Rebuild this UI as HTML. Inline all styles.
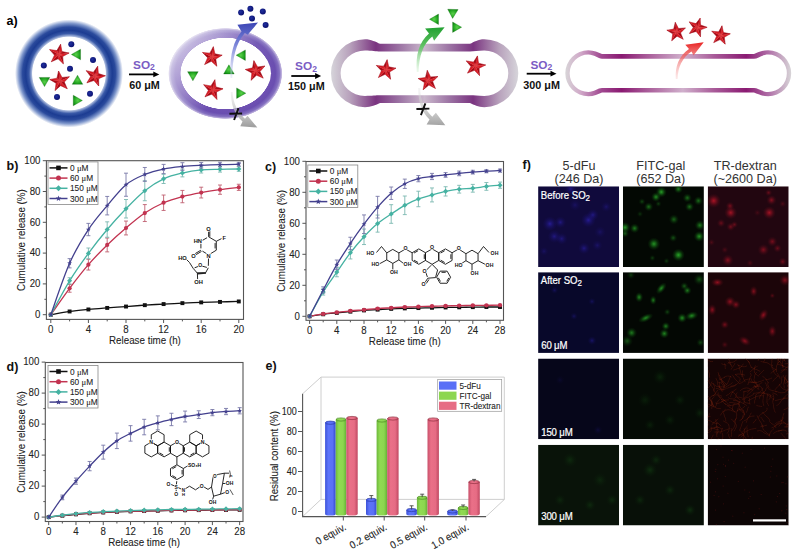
<!DOCTYPE html>
<html><head><meta charset="utf-8"><style>
html,body{margin:0;padding:0;background:#fff;}
svg{display:block;font-family:"Liberation Sans",sans-serif;}
</style></head><body>
<svg width="799" height="553" viewBox="0 0 799 553">
<rect width="799" height="553" fill="#fff"/>
<defs>
<radialGradient id="gStarH" cx="0.5" cy="0.5" r="0.5"><stop offset="0" stop-color="#ff6060" stop-opacity="0.55"/><stop offset="0.45" stop-color="#ff4040" stop-opacity="0"/></radialGradient>
<radialGradient id="gStar" cx="0.5" cy="0.45" r="0.6"><stop offset="0" stop-color="#e83434"/><stop offset="0.55" stop-color="#c8141c"/><stop offset="1" stop-color="#8a0410"/></radialGradient>
<radialGradient id="gTri" cx="0.5" cy="0.5" r="0.6"><stop offset="0" stop-color="#5ad04a"/><stop offset="0.7" stop-color="#1ea21e"/><stop offset="1" stop-color="#0c7a10"/></radialGradient>
<radialGradient id="gDot" cx="0.4" cy="0.4" r="0.7"><stop offset="0" stop-color="#2030a0"/><stop offset="1" stop-color="#080c68"/></radialGradient>
<radialGradient id="gRing1" gradientUnits="userSpaceOnUse" cx="69" cy="73.5" r="54">
 <stop offset="0" stop-color="#fff"/><stop offset="0.675" stop-color="#fff"/>
 <stop offset="0.69" stop-color="#a8b8dc"/><stop offset="0.74" stop-color="#3a5aa8"/>
 <stop offset="0.80" stop-color="#1c3c92"/><stop offset="0.86" stop-color="#2a4a9c"/>
 <stop offset="0.93" stop-color="#8098cc"/><stop offset="1" stop-color="#fff"/></radialGradient>
<radialGradient id="gRing2" cx="0.5" cy="0.5" r="0.5">
 <stop offset="0" stop-color="#fff"/><stop offset="0.78" stop-color="#fff"/>
 <stop offset="0.79" stop-color="#6e50b2"/><stop offset="0.88" stop-color="#6a4eb0"/>
 <stop offset="0.95" stop-color="#8470c0"/><stop offset="0.99" stop-color="#c4b8e0"/><stop offset="1" stop-color="#fff"/></radialGradient>
<linearGradient id="gRing2L" x1="0" y1="0.1" x2="1" y2="0.7"><stop offset="0" stop-color="#fff" stop-opacity="0.8"/><stop offset="0.3" stop-color="#fff" stop-opacity="0.4"/><stop offset="0.6" stop-color="#fff" stop-opacity="0"/></linearGradient>
<linearGradient id="gRing2T" x1="0" y1="0" x2="0" y2="1"><stop offset="0" stop-color="#fff" stop-opacity="0.12"/><stop offset="0.4" stop-color="#fff" stop-opacity="0"/></linearGradient>
<linearGradient id="gCap3" gradientUnits="userSpaceOnUse" x1="331" y1="0" x2="518" y2="0">
 <stop offset="0" stop-color="#d6d4da"/><stop offset="0.1" stop-color="#b8a2bc"/><stop offset="0.24" stop-color="#7a3480"/>
 <stop offset="0.36" stop-color="#9a70a2"/><stop offset="0.5" stop-color="#cab8cc"/><stop offset="0.64" stop-color="#9a70a2"/>
 <stop offset="0.76" stop-color="#7a3480"/><stop offset="0.9" stop-color="#b8a2bc"/><stop offset="1" stop-color="#d6d4da"/></linearGradient>
<linearGradient id="gCap4" gradientUnits="userSpaceOnUse" x1="565" y1="0" x2="791.5" y2="0">
 <stop offset="0" stop-color="#d8d6d8"/><stop offset="0.07" stop-color="#d0a8c8"/><stop offset="0.16" stop-color="#a04890"/>
 <stop offset="0.25" stop-color="#8a1a72"/><stop offset="0.36" stop-color="#a85a98"/><stop offset="0.52" stop-color="#d0b0cc"/>
 <stop offset="0.66" stop-color="#a85a98"/><stop offset="0.8" stop-color="#8a1a72"/><stop offset="0.9" stop-color="#b070a8"/><stop offset="1" stop-color="#d8d6d8"/></linearGradient>
<linearGradient id="gArrB" gradientUnits="userSpaceOnUse" x1="0" y1="78" x2="0" y2="22"><stop offset="0" stop-color="#d0d4f4" stop-opacity="0.4"/><stop offset="0.6" stop-color="#7a84d8"/><stop offset="1" stop-color="#3a44b4"/></linearGradient>
<linearGradient id="gArrG" gradientUnits="userSpaceOnUse" x1="0" y1="72" x2="0" y2="27"><stop offset="0" stop-color="#d0f0d0" stop-opacity="0.4"/><stop offset="0.6" stop-color="#5cc060"/><stop offset="1" stop-color="#20a030"/></linearGradient>
<linearGradient id="gArrR" gradientUnits="userSpaceOnUse" x1="0" y1="80" x2="0" y2="42"><stop offset="0" stop-color="#f8c0c0" stop-opacity="0.3"/><stop offset="1" stop-color="#e82020"/></linearGradient>
<linearGradient id="gArrGr" gradientUnits="userSpaceOnUse" x1="0" y1="92" x2="0" y2="126"><stop offset="0" stop-color="#e0e0e0" stop-opacity="0.4"/><stop offset="1" stop-color="#a0a0a0"/></linearGradient>
<filter id="soft" x="-20%" y="-20%" width="140%" height="140%"><feGaussianBlur stdDeviation="0.6"/></filter>
</defs>
<text x="6.5" y="25" font-weight="bold" font-size="12.5">a)</text>
<circle cx="69" cy="73.5" r="54" fill="url(#gRing1)"/>
<polygon points="58.80,54.50 60.61,44.26 61.94,51.47" fill="#d81c24" stroke="#d81c24" stroke-width="0.25"/><polygon points="58.80,54.50 61.94,51.47 69.10,53.05" fill="#a80814" stroke="#a80814" stroke-width="0.25"/><polygon points="58.80,54.50 69.10,53.05 62.66,56.55" fill="#d81c24" stroke="#d81c24" stroke-width="0.25"/><polygon points="58.80,54.50 62.66,56.55 63.36,63.85" fill="#a80814" stroke="#a80814" stroke-width="0.25"/><polygon points="58.80,54.50 63.36,63.85 58.04,58.80" fill="#d81c24" stroke="#d81c24" stroke-width="0.25"/><polygon points="58.80,54.50 58.04,58.80 51.32,61.72" fill="#a80814" stroke="#a80814" stroke-width="0.25"/><polygon points="58.80,54.50 51.32,61.72 54.47,55.11" fill="#d81c24" stroke="#d81c24" stroke-width="0.25"/><polygon points="58.80,54.50 54.47,55.11 49.62,49.62" fill="#a80814" stroke="#a80814" stroke-width="0.25"/><polygon points="58.80,54.50 49.62,49.62 56.89,50.57" fill="#d81c24" stroke="#d81c24" stroke-width="0.25"/><polygon points="58.80,54.50 56.89,50.57 60.61,44.26" fill="#a80814" stroke="#a80814" stroke-width="0.25"/><polygon points="60.61,44.26 61.94,51.47 69.10,53.05 62.66,56.55 63.36,63.85 58.04,58.80 51.32,61.72 54.47,55.11 49.62,49.62 56.89,50.57" fill="url(#gStarH)" stroke="#900010" stroke-width="0.3"/>
<polygon points="60.00,81.30 58.55,71.00 62.05,77.44" fill="#d81c24" stroke="#d81c24" stroke-width="0.25"/><polygon points="60.00,81.30 62.05,77.44 69.35,76.74" fill="#a80814" stroke="#a80814" stroke-width="0.25"/><polygon points="60.00,81.30 69.35,76.74 64.30,82.06" fill="#d81c24" stroke="#d81c24" stroke-width="0.25"/><polygon points="60.00,81.30 64.30,82.06 67.22,88.78" fill="#a80814" stroke="#a80814" stroke-width="0.25"/><polygon points="60.00,81.30 67.22,88.78 60.61,85.63" fill="#d81c24" stroke="#d81c24" stroke-width="0.25"/><polygon points="60.00,81.30 60.61,85.63 55.12,90.48" fill="#a80814" stroke="#a80814" stroke-width="0.25"/><polygon points="60.00,81.30 55.12,90.48 56.07,83.21" fill="#d81c24" stroke="#d81c24" stroke-width="0.25"/><polygon points="60.00,81.30 56.07,83.21 49.76,79.49" fill="#a80814" stroke="#a80814" stroke-width="0.25"/><polygon points="60.00,81.30 49.76,79.49 56.97,78.16" fill="#d81c24" stroke="#d81c24" stroke-width="0.25"/><polygon points="60.00,81.30 56.97,78.16 58.55,71.00" fill="#a80814" stroke="#a80814" stroke-width="0.25"/><polygon points="58.55,71.00 62.05,77.44 69.35,76.74 64.30,82.06 67.22,88.78 60.61,85.63 55.12,90.48 56.07,83.21 49.76,79.49 56.97,78.16" fill="url(#gStarH)" stroke="#900010" stroke-width="0.3"/>
<polygon points="95.00,76.30 97.69,66.25 98.39,73.55" fill="#d81c24" stroke="#d81c24" stroke-width="0.25"/><polygon points="95.00,76.30 98.39,73.55 105.39,75.76" fill="#a80814" stroke="#a80814" stroke-width="0.25"/><polygon points="95.00,76.30 105.39,75.76 98.66,78.68" fill="#d81c24" stroke="#d81c24" stroke-width="0.25"/><polygon points="95.00,76.30 98.66,78.68 98.73,86.01" fill="#a80814" stroke="#a80814" stroke-width="0.25"/><polygon points="95.00,76.30 98.73,86.01 93.87,80.52" fill="#d81c24" stroke="#d81c24" stroke-width="0.25"/><polygon points="95.00,76.30 93.87,80.52 86.92,82.84" fill="#a80814" stroke="#a80814" stroke-width="0.25"/><polygon points="95.00,76.30 86.92,82.84 90.64,76.53" fill="#d81c24" stroke="#d81c24" stroke-width="0.25"/><polygon points="95.00,76.30 90.64,76.53 86.28,70.64" fill="#a80814" stroke="#a80814" stroke-width="0.25"/><polygon points="95.00,76.30 86.28,70.64 93.43,72.22" fill="#d81c24" stroke="#d81c24" stroke-width="0.25"/><polygon points="95.00,76.30 93.43,72.22 97.69,66.25" fill="#a80814" stroke="#a80814" stroke-width="0.25"/><polygon points="97.69,66.25 98.39,73.55 105.39,75.76 98.66,78.68 98.73,86.01 93.87,80.52 86.92,82.84 90.64,76.53 86.28,70.64 93.43,72.22" fill="url(#gStarH)" stroke="#900010" stroke-width="0.3"/>
<polygon points="71.40,54.50 80.55,49.22 80.55,59.78" fill="url(#gTri)" stroke="#0a6a0a" stroke-width="0.3"/>
<polygon points="44.50,86.60 39.22,77.45 49.78,77.45" fill="url(#gTri)" stroke="#0a6a0a" stroke-width="0.3"/>
<polygon points="77.50,75.20 82.78,84.35 72.22,84.35" fill="url(#gTri)" stroke="#0a6a0a" stroke-width="0.3"/>
<polygon points="82.40,100.50 73.25,105.78 73.25,95.22" fill="url(#gTri)" stroke="#0a6a0a" stroke-width="0.3"/>
<circle cx="71.3" cy="44.3" r="3.0" fill="url(#gDot)"/>
<circle cx="93" cy="60" r="3.0" fill="url(#gDot)"/>
<circle cx="43.8" cy="65.5" r="3.0" fill="url(#gDot)"/>
<circle cx="70" cy="68.8" r="3.0" fill="url(#gDot)"/>
<circle cx="57" cy="97" r="3.0" fill="url(#gDot)"/>
<circle cx="90" cy="93.8" r="3.0" fill="url(#gDot)"/>
<ellipse cx="225.3" cy="73.5" rx="57" ry="45.5" fill="url(#gRing2)"/>
<ellipse cx="225.3" cy="73.5" rx="57" ry="45.5" fill="url(#gRing2L)"/>
<ellipse cx="225.3" cy="73.5" rx="57" ry="45.5" fill="url(#gRing2T)"/>
<ellipse cx="226.2" cy="73.3" rx="44.8" ry="32.8" fill="#fff"/>
<polygon points="211.90,57.00 213.35,46.70 214.93,53.86" fill="#d81c24" stroke="#d81c24" stroke-width="0.25"/><polygon points="211.90,57.00 214.93,53.86 222.14,55.19" fill="#a80814" stroke="#a80814" stroke-width="0.25"/><polygon points="211.90,57.00 222.14,55.19 215.83,58.91" fill="#d81c24" stroke="#d81c24" stroke-width="0.25"/><polygon points="211.90,57.00 215.83,58.91 216.78,66.18" fill="#a80814" stroke="#a80814" stroke-width="0.25"/><polygon points="211.90,57.00 216.78,66.18 211.29,61.33" fill="#d81c24" stroke="#d81c24" stroke-width="0.25"/><polygon points="211.90,57.00 211.29,61.33 204.68,64.48" fill="#a80814" stroke="#a80814" stroke-width="0.25"/><polygon points="211.90,57.00 204.68,64.48 207.60,57.76" fill="#d81c24" stroke="#d81c24" stroke-width="0.25"/><polygon points="211.90,57.00 207.60,57.76 202.55,52.44" fill="#a80814" stroke="#a80814" stroke-width="0.25"/><polygon points="211.90,57.00 202.55,52.44 209.85,53.14" fill="#d81c24" stroke="#d81c24" stroke-width="0.25"/><polygon points="211.90,57.00 209.85,53.14 213.35,46.70" fill="#a80814" stroke="#a80814" stroke-width="0.25"/><polygon points="213.35,46.70 214.93,53.86 222.14,55.19 215.83,58.91 216.78,66.18 211.29,61.33 204.68,64.48 207.60,57.76 202.55,52.44 209.85,53.14" fill="url(#gStarH)" stroke="#900010" stroke-width="0.3"/>
<polygon points="255.70,70.90 253.89,60.66 257.61,66.97" fill="#d81c24" stroke="#d81c24" stroke-width="0.25"/><polygon points="255.70,70.90 257.61,66.97 264.88,66.02" fill="#a80814" stroke="#a80814" stroke-width="0.25"/><polygon points="255.70,70.90 264.88,66.02 260.03,71.51" fill="#d81c24" stroke="#d81c24" stroke-width="0.25"/><polygon points="255.70,70.90 260.03,71.51 263.18,78.12" fill="#a80814" stroke="#a80814" stroke-width="0.25"/><polygon points="255.70,70.90 263.18,78.12 256.46,75.20" fill="#d81c24" stroke="#d81c24" stroke-width="0.25"/><polygon points="255.70,70.90 256.46,75.20 251.14,80.25" fill="#a80814" stroke="#a80814" stroke-width="0.25"/><polygon points="255.70,70.90 251.14,80.25 251.84,72.95" fill="#d81c24" stroke="#d81c24" stroke-width="0.25"/><polygon points="255.70,70.90 251.84,72.95 245.40,69.45" fill="#a80814" stroke="#a80814" stroke-width="0.25"/><polygon points="255.70,70.90 245.40,69.45 252.56,67.87" fill="#d81c24" stroke="#d81c24" stroke-width="0.25"/><polygon points="255.70,70.90 252.56,67.87 253.89,60.66" fill="#a80814" stroke="#a80814" stroke-width="0.25"/><polygon points="253.89,60.66 257.61,66.97 264.88,66.02 260.03,71.51 263.18,78.12 256.46,75.20 251.14,80.25 251.84,72.95 245.40,69.45 252.56,67.87" fill="url(#gStarH)" stroke="#900010" stroke-width="0.3"/>
<polygon points="212.70,89.90 214.86,79.73 215.95,86.98" fill="#d81c24" stroke="#d81c24" stroke-width="0.25"/><polygon points="212.70,89.90 215.95,86.98 223.04,88.81" fill="#a80814" stroke="#a80814" stroke-width="0.25"/><polygon points="212.70,89.90 223.04,88.81 216.48,92.08" fill="#d81c24" stroke="#d81c24" stroke-width="0.25"/><polygon points="212.70,89.90 216.48,92.08 216.93,99.40" fill="#a80814" stroke="#a80814" stroke-width="0.25"/><polygon points="212.70,89.90 216.93,99.40 211.79,94.17" fill="#d81c24" stroke="#d81c24" stroke-width="0.25"/><polygon points="212.70,89.90 211.79,94.17 204.97,96.86" fill="#a80814" stroke="#a80814" stroke-width="0.25"/><polygon points="212.70,89.90 204.97,96.86 208.36,90.36" fill="#d81c24" stroke="#d81c24" stroke-width="0.25"/><polygon points="212.70,89.90 208.36,90.36 203.69,84.70" fill="#a80814" stroke="#a80814" stroke-width="0.25"/><polygon points="212.70,89.90 203.69,84.70 210.92,85.91" fill="#d81c24" stroke="#d81c24" stroke-width="0.25"/><polygon points="212.70,89.90 210.92,85.91 214.86,79.73" fill="#a80814" stroke="#a80814" stroke-width="0.25"/><polygon points="214.86,79.73 215.95,86.98 223.04,88.81 216.48,92.08 216.93,99.40 211.79,94.17 204.97,96.86 208.36,90.36 203.69,84.70 210.92,85.91" fill="url(#gStarH)" stroke="#900010" stroke-width="0.3"/>
<polygon points="192.90,80.80 187.62,71.65 198.18,71.65" fill="url(#gTri)" stroke="#0a6a0a" stroke-width="0.3"/>
<polygon points="236.20,55.20 245.35,49.92 245.35,60.48" fill="url(#gTri)" stroke="#0a6a0a" stroke-width="0.3"/>
<polygon points="228.90,64.80 234.18,73.95 223.62,73.95" fill="url(#gTri)" stroke="#0a6a0a" stroke-width="0.3"/>
<polygon points="245.80,93.20 236.65,98.48 236.65,87.92" fill="url(#gTri)" stroke="#0a6a0a" stroke-width="0.3"/>
<circle cx="241.1" cy="12.5" r="3.0" fill="url(#gDot)"/>
<circle cx="250.4" cy="8.7" r="3.0" fill="url(#gDot)"/>
<circle cx="262.8" cy="11.4" r="3.0" fill="url(#gDot)"/>
<circle cx="252" cy="18.4" r="3.0" fill="url(#gDot)"/>
<circle cx="265.6" cy="24.9" r="3.0" fill="url(#gDot)"/>
<path d="M230.5,78 C229.5,58 232.5,42 241.5,31.5 L237.4,24.7 L258,22.6 L247.7,34.7 L244.8,33 C235.5,44 232.5,58 232.3,78 Z" fill="url(#gArrB)"/>
<path d="M230.8,92 C231,104 234,114 242.5,121.5 L240.3,126.2 L257.3,127.6 L247.5,115.7 L245,118.8 C237.5,112 233,103 232.6,92 Z" fill="url(#gArrGr)"/>
<path d="M229.4,113.8 L242.1,113.5 M238.5,108.1 L234.1,120" stroke="#111" stroke-width="1.9" fill="none"/>
<path d="M365,39.2 A34,34 0 0 0 365,107.2 L484.3,107.2 A34,34 0 0 0 484.3,39.2 Z" fill="none"/>
<path d="M365,39.2 C371,39.2 376,42 380,43.8 L470,43.8 C474,42 478,39.2 484.3,39.2 A34,34 0 0 1 484.3,107.2 C478,107.2 474,104.8 470,103 L380,103 C376,104.8 371,107.2 365,107.2 A34,34 0 0 1 365,39.2 Z" fill="url(#gCap3)"/>
<path d="M365,50.5 C372,50.5 376,51.5 380,51.5 L470,51.5 C474,51.5 478,50.5 484.3,50.5 A24,22.7 0 0 1 484.3,95.9 C478,95.9 474,95.3 470,95.3 L380,95.3 C376,95.3 372,95.9 365,95.9 A24.4,22.7 0 0 1 365,50.5 Z" fill="#fff"/>
<polygon points="385.70,70.00 387.15,59.70 388.73,66.86" fill="#d81c24" stroke="#d81c24" stroke-width="0.25"/><polygon points="385.70,70.00 388.73,66.86 395.94,68.19" fill="#a80814" stroke="#a80814" stroke-width="0.25"/><polygon points="385.70,70.00 395.94,68.19 389.63,71.91" fill="#d81c24" stroke="#d81c24" stroke-width="0.25"/><polygon points="385.70,70.00 389.63,71.91 390.58,79.18" fill="#a80814" stroke="#a80814" stroke-width="0.25"/><polygon points="385.70,70.00 390.58,79.18 385.09,74.33" fill="#d81c24" stroke="#d81c24" stroke-width="0.25"/><polygon points="385.70,70.00 385.09,74.33 378.48,77.48" fill="#a80814" stroke="#a80814" stroke-width="0.25"/><polygon points="385.70,70.00 378.48,77.48 381.40,70.76" fill="#d81c24" stroke="#d81c24" stroke-width="0.25"/><polygon points="385.70,70.00 381.40,70.76 376.35,65.44" fill="#a80814" stroke="#a80814" stroke-width="0.25"/><polygon points="385.70,70.00 376.35,65.44 383.65,66.14" fill="#d81c24" stroke="#d81c24" stroke-width="0.25"/><polygon points="385.70,70.00 383.65,66.14 387.15,59.70" fill="#a80814" stroke="#a80814" stroke-width="0.25"/><polygon points="387.15,59.70 388.73,66.86 395.94,68.19 389.63,71.91 390.58,79.18 385.09,74.33 378.48,77.48 381.40,70.76 376.35,65.44 383.65,66.14" fill="url(#gStarH)" stroke="#900010" stroke-width="0.3"/>
<polygon points="428.40,80.70 427.31,70.36 430.58,76.92" fill="#d81c24" stroke="#d81c24" stroke-width="0.25"/><polygon points="428.40,80.70 430.58,76.92 437.90,76.47" fill="#a80814" stroke="#a80814" stroke-width="0.25"/><polygon points="428.40,80.70 437.90,76.47 432.67,81.61" fill="#d81c24" stroke="#d81c24" stroke-width="0.25"/><polygon points="428.40,80.70 432.67,81.61 435.36,88.43" fill="#a80814" stroke="#a80814" stroke-width="0.25"/><polygon points="428.40,80.70 435.36,88.43 428.86,85.04" fill="#d81c24" stroke="#d81c24" stroke-width="0.25"/><polygon points="428.40,80.70 428.86,85.04 423.20,89.71" fill="#a80814" stroke="#a80814" stroke-width="0.25"/><polygon points="428.40,80.70 423.20,89.71 424.41,82.48" fill="#d81c24" stroke="#d81c24" stroke-width="0.25"/><polygon points="428.40,80.70 424.41,82.48 418.23,78.54" fill="#a80814" stroke="#a80814" stroke-width="0.25"/><polygon points="428.40,80.70 418.23,78.54 425.48,77.45" fill="#d81c24" stroke="#d81c24" stroke-width="0.25"/><polygon points="428.40,80.70 425.48,77.45 427.31,70.36" fill="#a80814" stroke="#a80814" stroke-width="0.25"/><polygon points="427.31,70.36 430.58,76.92 437.90,76.47 432.67,81.61 435.36,88.43 428.86,85.04 423.20,89.71 424.41,82.48 418.23,78.54 425.48,77.45" fill="url(#gStarH)" stroke="#900010" stroke-width="0.3"/>
<polygon points="475.30,66.10 477.46,55.93 478.55,63.18" fill="#d81c24" stroke="#d81c24" stroke-width="0.25"/><polygon points="475.30,66.10 478.55,63.18 485.64,65.01" fill="#a80814" stroke="#a80814" stroke-width="0.25"/><polygon points="475.30,66.10 485.64,65.01 479.08,68.28" fill="#d81c24" stroke="#d81c24" stroke-width="0.25"/><polygon points="475.30,66.10 479.08,68.28 479.53,75.60" fill="#a80814" stroke="#a80814" stroke-width="0.25"/><polygon points="475.30,66.10 479.53,75.60 474.39,70.37" fill="#d81c24" stroke="#d81c24" stroke-width="0.25"/><polygon points="475.30,66.10 474.39,70.37 467.57,73.06" fill="#a80814" stroke="#a80814" stroke-width="0.25"/><polygon points="475.30,66.10 467.57,73.06 470.96,66.56" fill="#d81c24" stroke="#d81c24" stroke-width="0.25"/><polygon points="475.30,66.10 470.96,66.56 466.29,60.90" fill="#a80814" stroke="#a80814" stroke-width="0.25"/><polygon points="475.30,66.10 466.29,60.90 473.52,62.11" fill="#d81c24" stroke="#d81c24" stroke-width="0.25"/><polygon points="475.30,66.10 473.52,62.11 477.46,55.93" fill="#a80814" stroke="#a80814" stroke-width="0.25"/><polygon points="477.46,55.93 478.55,63.18 485.64,65.01 479.08,68.28 479.53,75.60 474.39,70.37 467.57,73.06 470.96,66.56 466.29,60.90 473.52,62.11" fill="url(#gStarH)" stroke="#900010" stroke-width="0.3"/>
<polygon points="429.50,19.30 438.50,14.10 438.50,24.50" fill="url(#gTri)" stroke="#0a6a0a" stroke-width="0.3"/>
<polygon points="452.59,18.40 447.71,9.22 458.10,9.58" fill="url(#gTri)" stroke="#0a6a0a" stroke-width="0.3"/>
<polygon points="461.60,27.20 452.60,32.40 452.60,22.00" fill="url(#gTri)" stroke="#0a6a0a" stroke-width="0.3"/>
<path d="M416.8,72 C415.5,55 419,42 429,33.5 L425.1,28.6 L444.6,27.2 L434.1,40.8 L432.3,36.5 C423,44 419,56 418.6,72 Z" fill="url(#gArrG)"/>
<path d="M418.2,88 C418.2,101 421,111 429.5,119.5 L426.6,124.5 L445.3,125.3 L435.9,112.7 L432.3,116.8 C424.5,109 420.2,100 420.2,88 Z" fill="url(#gArrGr)"/>
<path d="M416.4,109 L429.4,108.6 M425.4,103.3 L420.9,115.1" stroke="#111" stroke-width="1.9" fill="none"/>
<path d="M588.3,50.25 C594,50.25 598,52.5 602,54.1 L754,54.1 C758,52.5 762,50.25 768.2,50.25 A23,23 0 0 1 768.2,96.25 C762,96.25 758,94 754,92.5 L602,92.5 C598,94 594,96.25 588.3,96.25 A23,23 0 0 1 588.3,50.25 Z" fill="url(#gCap4)"/>
<path d="M588.3,54.6 C594,54.6 598,58.8 602,58.8 L754,58.8 C758,58.8 762,54.6 768.2,54.6 A18.65,18.65 0 0 1 768.2,91.9 C762,91.9 758,88 754,88 L602,88 C598,88 594,91.9 588.3,91.9 A18.65,18.65 0 0 1 588.3,54.6 Z" fill="#fff"/>
<polygon points="676.50,32.10 675.31,22.37 678.50,28.50" fill="#d81c24" stroke="#d81c24" stroke-width="0.25"/><polygon points="676.50,32.10 678.50,28.50 685.38,27.96" fill="#a80814" stroke="#a80814" stroke-width="0.25"/><polygon points="676.50,32.10 685.38,27.96 680.54,32.89" fill="#d81c24" stroke="#d81c24" stroke-width="0.25"/><polygon points="676.50,32.10 680.54,32.89 683.18,39.27" fill="#a80814" stroke="#a80814" stroke-width="0.25"/><polygon points="676.50,32.10 683.18,39.27 677.00,36.19" fill="#d81c24" stroke="#d81c24" stroke-width="0.25"/><polygon points="676.50,32.10 677.00,36.19 671.75,40.67" fill="#a80814" stroke="#a80814" stroke-width="0.25"/><polygon points="676.50,32.10 671.75,40.67 672.77,33.84" fill="#d81c24" stroke="#d81c24" stroke-width="0.25"/><polygon points="676.50,32.10 672.77,33.84 666.88,30.23" fill="#a80814" stroke="#a80814" stroke-width="0.25"/><polygon points="676.50,32.10 666.88,30.23 673.69,29.09" fill="#d81c24" stroke="#d81c24" stroke-width="0.25"/><polygon points="676.50,32.10 673.69,29.09 675.31,22.37" fill="#a80814" stroke="#a80814" stroke-width="0.25"/><polygon points="675.31,22.37 678.50,28.50 685.38,27.96 680.54,32.89 683.18,39.27 677.00,36.19 671.75,40.67 672.77,33.84 666.88,30.23 673.69,29.09" fill="url(#gStarH)" stroke="#900010" stroke-width="0.3"/>
<polygon points="697.30,27.50 700.17,18.13 700.59,25.02" fill="#d81c24" stroke="#d81c24" stroke-width="0.25"/><polygon points="697.30,27.50 700.59,25.02 707.10,27.33" fill="#a80814" stroke="#a80814" stroke-width="0.25"/><polygon points="697.30,27.50 707.10,27.33 700.67,29.86" fill="#d81c24" stroke="#d81c24" stroke-width="0.25"/><polygon points="697.30,27.50 700.67,29.86 700.49,36.77" fill="#a80814" stroke="#a80814" stroke-width="0.25"/><polygon points="697.30,27.50 700.49,36.77 696.10,31.44" fill="#d81c24" stroke="#d81c24" stroke-width="0.25"/><polygon points="697.30,27.50 696.10,31.44 689.47,33.40" fill="#a80814" stroke="#a80814" stroke-width="0.25"/><polygon points="697.30,27.50 689.47,33.40 693.18,27.57" fill="#d81c24" stroke="#d81c24" stroke-width="0.25"/><polygon points="697.30,27.50 693.18,27.57 689.27,21.88" fill="#a80814" stroke="#a80814" stroke-width="0.25"/><polygon points="697.30,27.50 689.27,21.88 695.96,23.61" fill="#d81c24" stroke="#d81c24" stroke-width="0.25"/><polygon points="697.30,27.50 695.96,23.61 700.17,18.13" fill="#a80814" stroke="#a80814" stroke-width="0.25"/><polygon points="700.17,18.13 700.59,25.02 707.10,27.33 700.67,29.86 700.49,36.77 696.10,31.44 689.47,33.40 693.18,27.57 689.27,21.88 695.96,23.61" fill="url(#gStarH)" stroke="#900010" stroke-width="0.3"/>
<polygon points="720.60,35.50 721.96,25.80 723.46,32.54" fill="#d81c24" stroke="#d81c24" stroke-width="0.25"/><polygon points="720.60,35.50 723.46,32.54 730.25,33.80" fill="#a80814" stroke="#a80814" stroke-width="0.25"/><polygon points="720.60,35.50 730.25,33.80 724.30,37.30" fill="#d81c24" stroke="#d81c24" stroke-width="0.25"/><polygon points="720.60,35.50 724.30,37.30 725.20,44.15" fill="#a80814" stroke="#a80814" stroke-width="0.25"/><polygon points="720.60,35.50 725.20,44.15 720.03,39.58" fill="#d81c24" stroke="#d81c24" stroke-width="0.25"/><polygon points="720.60,35.50 720.03,39.58 713.79,42.55" fill="#a80814" stroke="#a80814" stroke-width="0.25"/><polygon points="720.60,35.50 713.79,42.55 716.55,36.21" fill="#d81c24" stroke="#d81c24" stroke-width="0.25"/><polygon points="720.60,35.50 716.55,36.21 711.79,31.20" fill="#a80814" stroke="#a80814" stroke-width="0.25"/><polygon points="720.60,35.50 711.79,31.20 718.67,31.87" fill="#d81c24" stroke="#d81c24" stroke-width="0.25"/><polygon points="720.60,35.50 718.67,31.87 721.96,25.80" fill="#a80814" stroke="#a80814" stroke-width="0.25"/><polygon points="721.96,25.80 723.46,32.54 730.25,33.80 724.30,37.30 725.20,44.15 720.03,39.58 713.79,42.55 716.55,36.21 711.79,31.20 718.67,31.87" fill="url(#gStarH)" stroke="#900010" stroke-width="0.3"/>
<path d="M675.8,79 C675,66 679,56 689,49 L685.3,44.7 L703.7,42.2 L693.5,55.5 L691.5,51.5 C682,58 678,67 677.6,79 Z" fill="url(#gArrR)"/>
<line x1="129" y1="74.4" x2="154.3" y2="74.4" stroke="#000" stroke-width="1.8"/>
<polygon points="153.3,71.5 159.3,74.4 153.3,77.30000000000001" fill="#000"/>
<text x="143.95000000000002" y="68.5" text-anchor="middle" font-weight="bold" font-size="11.8" fill="#7b5cc4">SO<tspan font-size="8.6" dy="1.8">2</tspan></text>
<text x="144.5" y="88.8" text-anchor="middle" font-weight="bold" font-size="10.8" fill="#111">60 μM</text>
<line x1="291.3" y1="76" x2="316.1" y2="76" stroke="#000" stroke-width="1.8"/>
<polygon points="315.1,73.1 321.1,76 315.1,78.9" fill="#000"/>
<text x="306.00000000000006" y="70.3" text-anchor="middle" font-weight="bold" font-size="11.8" fill="#7b5cc4">SO<tspan font-size="8.6" dy="1.8">2</tspan></text>
<text x="306.4" y="89.7" text-anchor="middle" font-weight="bold" font-size="10.8" fill="#111">150 μM</text>
<line x1="526.7" y1="73.7" x2="551.5" y2="73.7" stroke="#000" stroke-width="1.8"/>
<polygon points="550.5,70.8 556.5,73.7 550.5,76.60000000000001" fill="#000"/>
<text x="541.4" y="68.5" text-anchor="middle" font-weight="bold" font-size="11.8" fill="#7b5cc4">SO<tspan font-size="8.6" dy="1.8">2</tspan></text>
<text x="541.6" y="88.7" text-anchor="middle" font-weight="bold" font-size="10.8" fill="#111">300 μM</text>
<rect x="46.4" y="160.7" width="197.1" height="158.7" fill="none" stroke="#555" stroke-width="1.1"/>
<line x1="42.8" y1="314.70" x2="46.4" y2="314.70" stroke="#555" stroke-width="1"/>
<text transform="translate(40.40,317.90) scale(1.03,1.07)" text-anchor="end" font-size="9.4" fill="#222" stroke="#222" stroke-width="0.08">0</text>
<line x1="44.4" y1="299.30" x2="46.4" y2="299.30" stroke="#555" stroke-width="1"/>
<line x1="42.8" y1="283.90" x2="46.4" y2="283.90" stroke="#555" stroke-width="1"/>
<text transform="translate(40.40,287.10) scale(1.03,1.07)" text-anchor="end" font-size="9.4" fill="#222" stroke="#222" stroke-width="0.08">20</text>
<line x1="44.4" y1="268.50" x2="46.4" y2="268.50" stroke="#555" stroke-width="1"/>
<line x1="42.8" y1="253.10" x2="46.4" y2="253.10" stroke="#555" stroke-width="1"/>
<text transform="translate(40.40,256.30) scale(1.03,1.07)" text-anchor="end" font-size="9.4" fill="#222" stroke="#222" stroke-width="0.08">40</text>
<line x1="44.4" y1="237.70" x2="46.4" y2="237.70" stroke="#555" stroke-width="1"/>
<line x1="42.8" y1="222.30" x2="46.4" y2="222.30" stroke="#555" stroke-width="1"/>
<text transform="translate(40.40,225.50) scale(1.03,1.07)" text-anchor="end" font-size="9.4" fill="#222" stroke="#222" stroke-width="0.08">60</text>
<line x1="44.4" y1="206.90" x2="46.4" y2="206.90" stroke="#555" stroke-width="1"/>
<line x1="42.8" y1="191.50" x2="46.4" y2="191.50" stroke="#555" stroke-width="1"/>
<text transform="translate(40.40,194.70) scale(1.03,1.07)" text-anchor="end" font-size="9.4" fill="#222" stroke="#222" stroke-width="0.08">80</text>
<line x1="44.4" y1="176.10" x2="46.4" y2="176.10" stroke="#555" stroke-width="1"/>
<line x1="42.8" y1="160.70" x2="46.4" y2="160.70" stroke="#555" stroke-width="1"/>
<text transform="translate(40.40,163.90) scale(1.03,1.07)" text-anchor="end" font-size="9.4" fill="#222" stroke="#222" stroke-width="0.08">100</text>
<line x1="50.80" y1="319.4" x2="50.80" y2="323.0" stroke="#555" stroke-width="1"/>
<text transform="translate(50.80,332.80) scale(1.03,1.07)" text-anchor="middle" font-size="9.4" fill="#222" stroke="#222" stroke-width="0.08">0</text>
<line x1="69.60" y1="319.4" x2="69.60" y2="321.4" stroke="#555" stroke-width="1"/>
<line x1="88.40" y1="319.4" x2="88.40" y2="323.0" stroke="#555" stroke-width="1"/>
<text transform="translate(88.40,332.80) scale(1.03,1.07)" text-anchor="middle" font-size="9.4" fill="#222" stroke="#222" stroke-width="0.08">4</text>
<line x1="107.20" y1="319.4" x2="107.20" y2="321.4" stroke="#555" stroke-width="1"/>
<line x1="126.00" y1="319.4" x2="126.00" y2="323.0" stroke="#555" stroke-width="1"/>
<text transform="translate(126.00,332.80) scale(1.03,1.07)" text-anchor="middle" font-size="9.4" fill="#222" stroke="#222" stroke-width="0.08">8</text>
<line x1="144.80" y1="319.4" x2="144.80" y2="321.4" stroke="#555" stroke-width="1"/>
<line x1="163.60" y1="319.4" x2="163.60" y2="323.0" stroke="#555" stroke-width="1"/>
<text transform="translate(163.60,332.80) scale(1.03,1.07)" text-anchor="middle" font-size="9.4" fill="#222" stroke="#222" stroke-width="0.08">12</text>
<line x1="182.40" y1="319.4" x2="182.40" y2="321.4" stroke="#555" stroke-width="1"/>
<line x1="201.20" y1="319.4" x2="201.20" y2="323.0" stroke="#555" stroke-width="1"/>
<text transform="translate(201.20,332.80) scale(1.03,1.07)" text-anchor="middle" font-size="9.4" fill="#222" stroke="#222" stroke-width="0.08">16</text>
<line x1="220.00" y1="319.4" x2="220.00" y2="321.4" stroke="#555" stroke-width="1"/>
<line x1="238.80" y1="319.4" x2="238.80" y2="323.0" stroke="#555" stroke-width="1"/>
<text transform="translate(238.80,332.80) scale(1.03,1.07)" text-anchor="middle" font-size="9.4" fill="#222" stroke="#222" stroke-width="0.08">20</text>
<text transform="translate(144.95,343.60) scale(1.0,1.08)" text-anchor="middle" font-size="9.8" fill="#222" stroke="#222" stroke-width="0.08">Release time (h)</text>
<text transform="translate(24.90,240.05) rotate(-90) scale(1.0,1.08)" text-anchor="middle" font-size="9.8" fill="#222" stroke="#222" stroke-width="0.08">Cumulative release (%)</text>
<text x="6.5" y="170" font-weight="bold" font-size="12.5" fill="#111">b)</text>
<path d="M50.80,314.70 C53.93,314.16 63.33,312.34 69.60,311.47 C75.87,310.59 82.13,310.05 88.40,309.46 C94.67,308.87 100.93,308.41 107.20,307.92 C113.47,307.44 119.73,307.00 126.00,306.54 C132.27,306.08 138.53,305.56 144.80,305.15 C151.07,304.74 157.33,304.41 163.60,304.07 C169.87,303.74 176.13,303.43 182.40,303.15 C188.67,302.87 194.93,302.59 201.20,302.38 C207.47,302.17 213.73,302.07 220.00,301.92 C226.27,301.76 235.67,301.53 238.80,301.46" fill="none" stroke="#111111" stroke-width="1.3"/>
<rect x="48.84" y="312.75" width="3.91" height="3.91" fill="#111111"/>
<rect x="67.64" y="309.51" width="3.91" height="3.91" fill="#111111"/>
<rect x="86.45" y="307.51" width="3.91" height="3.91" fill="#111111"/>
<rect x="105.25" y="305.97" width="3.91" height="3.91" fill="#111111"/>
<rect x="124.05" y="304.58" width="3.91" height="3.91" fill="#111111"/>
<rect x="142.84" y="303.20" width="3.91" height="3.91" fill="#111111"/>
<rect x="161.65" y="302.12" width="3.91" height="3.91" fill="#111111"/>
<rect x="180.44" y="301.19" width="3.91" height="3.91" fill="#111111"/>
<rect x="199.24" y="300.43" width="3.91" height="3.91" fill="#111111"/>
<rect x="218.04" y="299.96" width="3.91" height="3.91" fill="#111111"/>
<rect x="236.84" y="299.50" width="3.91" height="3.91" fill="#111111"/>
<path d="M69.60,284.52 V292.22 M67.60,284.52 h4 M67.60,292.22 h4" stroke="#c06070" stroke-width="0.9" fill="none"/>
<path d="M88.40,259.26 V270.04 M86.40,259.26 h4 M86.40,270.04 h4" stroke="#c06070" stroke-width="0.9" fill="none"/>
<path d="M107.20,238.01 V251.87 M105.20,238.01 h4 M105.20,251.87 h4" stroke="#c06070" stroke-width="0.9" fill="none"/>
<path d="M126.00,221.07 V234.93 M124.00,221.07 h4 M124.00,234.93 h4" stroke="#c06070" stroke-width="0.9" fill="none"/>
<path d="M144.80,204.59 V221.53 M142.80,204.59 h4 M142.80,221.53 h4" stroke="#c06070" stroke-width="0.9" fill="none"/>
<path d="M163.60,195.04 V210.44 M161.60,195.04 h4 M161.60,210.44 h4" stroke="#c06070" stroke-width="0.9" fill="none"/>
<path d="M182.40,190.42 V202.74 M180.40,190.42 h4 M180.40,202.74 h4" stroke="#c06070" stroke-width="0.9" fill="none"/>
<path d="M201.20,187.19 V197.97 M199.20,187.19 h4 M199.20,197.97 h4" stroke="#c06070" stroke-width="0.9" fill="none"/>
<path d="M220.00,185.03 V194.27 M218.00,185.03 h4 M218.00,194.27 h4" stroke="#c06070" stroke-width="0.9" fill="none"/>
<path d="M238.80,184.26 V190.42 M236.80,184.26 h4 M236.80,190.42 h4" stroke="#c06070" stroke-width="0.9" fill="none"/>
<path d="M50.80,314.70 C53.93,310.31 63.33,296.71 69.60,288.37 C75.87,280.02 82.13,271.89 88.40,264.65 C94.67,257.41 100.93,251.05 107.20,244.94 C113.47,238.83 119.73,233.31 126.00,228.00 C132.27,222.69 138.53,217.27 144.80,213.06 C151.07,208.85 157.33,205.49 163.60,202.74 C169.87,200.00 176.13,198.28 182.40,196.58 C188.67,194.89 194.93,193.73 201.20,192.58 C207.47,191.42 213.73,190.52 220.00,189.65 C226.27,188.78 235.67,187.73 238.80,187.34" fill="none" stroke="#c23350" stroke-width="1.3"/>
<circle cx="50.80" cy="314.70" r="2.12" fill="#c23350"/>
<circle cx="69.60" cy="288.37" r="2.12" fill="#c23350"/>
<circle cx="88.40" cy="264.65" r="2.12" fill="#c23350"/>
<circle cx="107.20" cy="244.94" r="2.12" fill="#c23350"/>
<circle cx="126.00" cy="228.00" r="2.12" fill="#c23350"/>
<circle cx="144.80" cy="213.06" r="2.12" fill="#c23350"/>
<circle cx="163.60" cy="202.74" r="2.12" fill="#c23350"/>
<circle cx="182.40" cy="196.58" r="2.12" fill="#c23350"/>
<circle cx="201.20" cy="192.58" r="2.12" fill="#c23350"/>
<circle cx="220.00" cy="189.65" r="2.12" fill="#c23350"/>
<circle cx="238.80" cy="187.34" r="2.12" fill="#c23350"/>
<path d="M69.60,277.74 V283.90 M67.60,277.74 h4 M67.60,283.90 h4" stroke="#7ab8b0" stroke-width="0.9" fill="none"/>
<path d="M88.40,248.02 V258.80 M86.40,248.02 h4 M86.40,258.80 h4" stroke="#7ab8b0" stroke-width="0.9" fill="none"/>
<path d="M107.20,221.84 V237.24 M105.20,221.84 h4 M105.20,237.24 h4" stroke="#7ab8b0" stroke-width="0.9" fill="none"/>
<path d="M126.00,199.51 V217.99 M124.00,199.51 h4 M124.00,217.99 h4" stroke="#7ab8b0" stroke-width="0.9" fill="none"/>
<path d="M144.80,180.72 V200.74 M142.80,180.72 h4 M142.80,200.74 h4" stroke="#7ab8b0" stroke-width="0.9" fill="none"/>
<path d="M163.60,174.25 V183.49 M161.60,174.25 h4 M161.60,183.49 h4" stroke="#7ab8b0" stroke-width="0.9" fill="none"/>
<path d="M182.40,169.17 V176.87 M180.40,169.17 h4 M180.40,176.87 h4" stroke="#7ab8b0" stroke-width="0.9" fill="none"/>
<path d="M201.20,166.86 V173.02 M199.20,166.86 h4 M199.20,173.02 h4" stroke="#7ab8b0" stroke-width="0.9" fill="none"/>
<path d="M220.00,166.55 V172.10 M218.00,166.55 h4 M218.00,172.10 h4" stroke="#7ab8b0" stroke-width="0.9" fill="none"/>
<path d="M238.80,166.71 V171.33 M236.80,166.71 h4 M236.80,171.33 h4" stroke="#7ab8b0" stroke-width="0.9" fill="none"/>
<path d="M50.80,314.70 C53.93,309.05 63.33,291.04 69.60,280.82 C75.87,270.60 82.13,261.95 88.40,253.41 C94.67,244.86 100.93,236.98 107.20,229.54 C113.47,222.09 119.73,215.22 126.00,208.75 C132.27,202.28 138.53,195.71 144.80,190.73 C151.07,185.75 157.33,181.82 163.60,178.87 C169.87,175.92 176.13,174.51 182.40,173.02 C188.67,171.53 194.93,170.56 201.20,169.94 C207.47,169.32 213.73,169.48 220.00,169.32 C226.27,169.17 235.67,169.07 238.80,169.02" fill="none" stroke="#45b2a2" stroke-width="1.3"/>
<polygon points="50.80,312.15 53.35,314.70 50.80,317.25 48.25,314.70" fill="#45b2a2"/>
<polygon points="69.60,278.27 72.15,280.82 69.60,283.37 67.05,280.82" fill="#45b2a2"/>
<polygon points="88.40,250.86 90.95,253.41 88.40,255.96 85.85,253.41" fill="#45b2a2"/>
<polygon points="107.20,226.99 109.75,229.54 107.20,232.09 104.65,229.54" fill="#45b2a2"/>
<polygon points="126.00,206.20 128.55,208.75 126.00,211.30 123.45,208.75" fill="#45b2a2"/>
<polygon points="144.80,188.18 147.35,190.73 144.80,193.28 142.25,190.73" fill="#45b2a2"/>
<polygon points="163.60,176.32 166.15,178.87 163.60,181.42 161.05,178.87" fill="#45b2a2"/>
<polygon points="182.40,170.47 184.95,173.02 182.40,175.57 179.85,173.02" fill="#45b2a2"/>
<polygon points="201.20,167.39 203.75,169.94 201.20,172.49 198.65,169.94" fill="#45b2a2"/>
<polygon points="220.00,166.77 222.55,169.32 220.00,171.87 217.45,169.32" fill="#45b2a2"/>
<polygon points="238.80,166.47 241.35,169.02 238.80,171.57 236.25,169.02" fill="#45b2a2"/>
<path d="M69.60,258.64 V267.88 M67.60,258.64 h4 M67.60,267.88 h4" stroke="#7878a8" stroke-width="0.9" fill="none"/>
<path d="M88.40,223.38 V235.70 M86.40,223.38 h4 M86.40,235.70 h4" stroke="#7878a8" stroke-width="0.9" fill="none"/>
<path d="M107.20,196.43 V214.91 M105.20,196.43 h4 M105.20,214.91 h4" stroke="#7878a8" stroke-width="0.9" fill="none"/>
<path d="M126.00,173.17 V196.27 M124.00,173.17 h4 M124.00,196.27 h4" stroke="#7878a8" stroke-width="0.9" fill="none"/>
<path d="M144.80,167.48 V181.34 M142.80,167.48 h4 M142.80,181.34 h4" stroke="#7878a8" stroke-width="0.9" fill="none"/>
<path d="M163.60,164.40 V173.64 M161.60,164.40 h4 M161.60,173.64 h4" stroke="#7878a8" stroke-width="0.9" fill="none"/>
<path d="M182.40,162.70 V170.40 M180.40,162.70 h4 M180.40,170.40 h4" stroke="#7878a8" stroke-width="0.9" fill="none"/>
<path d="M201.20,162.55 V168.09 M199.20,162.55 h4 M199.20,168.09 h4" stroke="#7878a8" stroke-width="0.9" fill="none"/>
<path d="M220.00,162.24 V166.86 M218.00,162.24 h4 M218.00,166.86 h4" stroke="#7878a8" stroke-width="0.9" fill="none"/>
<path d="M238.80,162.39 V166.09 M236.80,162.39 h4 M236.80,166.09 h4" stroke="#7878a8" stroke-width="0.9" fill="none"/>
<path d="M50.80,314.70 C53.93,306.13 63.33,277.46 69.60,263.26 C75.87,249.07 82.13,239.14 88.40,229.54 C94.67,219.94 100.93,213.14 107.20,205.67 C113.47,198.20 119.73,189.93 126.00,184.72 C132.27,179.51 138.53,177.02 144.80,174.41 C151.07,171.79 157.33,170.32 163.60,169.02 C169.87,167.71 176.13,167.17 182.40,166.55 C188.67,165.94 194.93,165.65 201.20,165.32 C207.47,164.99 213.73,164.73 220.00,164.55 C226.27,164.37 235.67,164.29 238.80,164.24" fill="none" stroke="#43408e" stroke-width="1.3"/>
<polygon points="50.80,312.15 51.45,313.81 53.23,313.91 51.85,315.04 52.30,316.76 50.80,315.81 49.30,316.76 49.75,315.04 48.37,313.91 50.15,313.81" fill="#43408e"/>
<polygon points="69.60,260.71 70.25,262.37 72.03,262.48 70.65,263.61 71.10,265.33 69.60,264.37 68.10,265.33 68.55,263.61 67.17,262.48 68.95,262.37" fill="#43408e"/>
<polygon points="88.40,226.99 89.05,228.64 90.83,228.75 89.45,229.88 89.90,231.60 88.40,230.64 86.90,231.60 87.35,229.88 85.97,228.75 87.75,228.64" fill="#43408e"/>
<polygon points="107.20,203.12 107.85,204.77 109.63,204.88 108.25,206.01 108.70,207.73 107.20,206.77 105.70,207.73 106.15,206.01 104.77,204.88 106.55,204.77" fill="#43408e"/>
<polygon points="126.00,182.17 126.65,183.83 128.43,183.94 127.05,185.07 127.50,186.79 126.00,185.83 124.50,186.79 124.95,185.07 123.57,183.94 125.35,183.83" fill="#43408e"/>
<polygon points="144.80,171.86 145.45,173.51 147.23,173.62 145.85,174.75 146.30,176.47 144.80,175.51 143.30,176.47 143.75,174.75 142.37,173.62 144.15,173.51" fill="#43408e"/>
<polygon points="163.60,166.47 164.25,168.12 166.03,168.23 164.65,169.36 165.10,171.08 163.60,170.12 162.10,171.08 162.55,169.36 161.17,168.23 162.95,168.12" fill="#43408e"/>
<polygon points="182.40,164.00 183.05,165.66 184.83,165.76 183.45,166.89 183.90,168.61 182.40,167.66 180.90,168.61 181.35,166.89 179.97,165.76 181.75,165.66" fill="#43408e"/>
<polygon points="201.20,162.77 201.85,164.43 203.63,164.53 202.25,165.66 202.70,167.38 201.20,166.42 199.70,167.38 200.15,165.66 198.77,164.53 200.55,164.43" fill="#43408e"/>
<polygon points="220.00,162.00 220.65,163.66 222.43,163.76 221.05,164.89 221.50,166.61 220.00,165.65 218.50,166.61 218.95,164.89 217.57,163.76 219.35,163.66" fill="#43408e"/>
<polygon points="238.80,161.69 239.45,163.35 241.23,163.45 239.85,164.58 240.30,166.30 238.80,165.35 237.30,166.30 237.75,164.58 236.37,163.45 238.15,163.35" fill="#43408e"/>
<rect x="48" y="161.9" width="50" height="42.5" fill="#fff" stroke="#888" stroke-width="0.8"/>
<line x1="49.5" y1="167.90" x2="67.5" y2="167.90" stroke="#111111" stroke-width="1.5"/>
<rect x="56.20" y="165.60" width="4.60" height="4.60" fill="#111111"/>
<text x="70" y="170.90" font-size="8.3" fill="#222" stroke="#222" stroke-width="0.08">0 <tspan font-family='Liberation Serif' font-size='8.6'>μ</tspan>M</text>
<line x1="49.5" y1="178.10" x2="67.5" y2="178.10" stroke="#c23350" stroke-width="1.5"/>
<circle cx="58.50" cy="178.10" r="2.50" fill="#c23350"/>
<text x="70" y="181.10" font-size="8.3" fill="#222" stroke="#222" stroke-width="0.08">60 <tspan font-family='Liberation Serif' font-size='8.6'>μ</tspan>M</text>
<line x1="49.5" y1="188.30" x2="67.5" y2="188.30" stroke="#45b2a2" stroke-width="1.5"/>
<polygon points="58.50,185.30 61.50,188.30 58.50,191.30 55.50,188.30" fill="#45b2a2"/>
<text x="70" y="191.30" font-size="8.3" fill="#222" stroke="#222" stroke-width="0.08">150 <tspan font-family='Liberation Serif' font-size='8.6'>μ</tspan>M</text>
<line x1="49.5" y1="198.50" x2="67.5" y2="198.50" stroke="#43408e" stroke-width="1.5"/>
<polygon points="58.50,195.50 59.26,197.45 61.35,197.57 59.74,198.90 60.26,200.93 58.50,199.80 56.74,200.93 57.26,198.90 55.65,197.57 57.74,197.45" fill="#43408e"/>
<text x="70" y="201.50" font-size="8.3" fill="#222" stroke="#222" stroke-width="0.08">300 <tspan font-family='Liberation Serif' font-size='8.6'>μ</tspan>M</text>
<rect x="306" y="161.5" width="197.5" height="158.8" fill="none" stroke="#555" stroke-width="1.1"/>
<line x1="302.4" y1="316.30" x2="306" y2="316.30" stroke="#555" stroke-width="1"/>
<text transform="translate(300.00,319.50) scale(1.03,1.07)" text-anchor="end" font-size="9.4" fill="#222" stroke="#222" stroke-width="0.08">0</text>
<line x1="304" y1="300.80" x2="306" y2="300.80" stroke="#555" stroke-width="1"/>
<line x1="302.4" y1="285.30" x2="306" y2="285.30" stroke="#555" stroke-width="1"/>
<text transform="translate(300.00,288.50) scale(1.03,1.07)" text-anchor="end" font-size="9.4" fill="#222" stroke="#222" stroke-width="0.08">20</text>
<line x1="304" y1="269.80" x2="306" y2="269.80" stroke="#555" stroke-width="1"/>
<line x1="302.4" y1="254.30" x2="306" y2="254.30" stroke="#555" stroke-width="1"/>
<text transform="translate(300.00,257.50) scale(1.03,1.07)" text-anchor="end" font-size="9.4" fill="#222" stroke="#222" stroke-width="0.08">40</text>
<line x1="304" y1="238.80" x2="306" y2="238.80" stroke="#555" stroke-width="1"/>
<line x1="302.4" y1="223.30" x2="306" y2="223.30" stroke="#555" stroke-width="1"/>
<text transform="translate(300.00,226.50) scale(1.03,1.07)" text-anchor="end" font-size="9.4" fill="#222" stroke="#222" stroke-width="0.08">60</text>
<line x1="304" y1="207.80" x2="306" y2="207.80" stroke="#555" stroke-width="1"/>
<line x1="302.4" y1="192.30" x2="306" y2="192.30" stroke="#555" stroke-width="1"/>
<text transform="translate(300.00,195.50) scale(1.03,1.07)" text-anchor="end" font-size="9.4" fill="#222" stroke="#222" stroke-width="0.08">80</text>
<line x1="304" y1="176.80" x2="306" y2="176.80" stroke="#555" stroke-width="1"/>
<line x1="302.4" y1="161.30" x2="306" y2="161.30" stroke="#555" stroke-width="1"/>
<text transform="translate(300.00,164.50) scale(1.03,1.07)" text-anchor="end" font-size="9.4" fill="#222" stroke="#222" stroke-width="0.08">100</text>
<line x1="309.60" y1="320.3" x2="309.60" y2="323.90000000000003" stroke="#555" stroke-width="1"/>
<text transform="translate(309.60,333.70) scale(1.03,1.07)" text-anchor="middle" font-size="9.4" fill="#222" stroke="#222" stroke-width="0.08">0</text>
<line x1="323.20" y1="320.3" x2="323.20" y2="322.3" stroke="#555" stroke-width="1"/>
<line x1="336.80" y1="320.3" x2="336.80" y2="323.90000000000003" stroke="#555" stroke-width="1"/>
<text transform="translate(336.80,333.70) scale(1.03,1.07)" text-anchor="middle" font-size="9.4" fill="#222" stroke="#222" stroke-width="0.08">4</text>
<line x1="350.40" y1="320.3" x2="350.40" y2="322.3" stroke="#555" stroke-width="1"/>
<line x1="364.00" y1="320.3" x2="364.00" y2="323.90000000000003" stroke="#555" stroke-width="1"/>
<text transform="translate(364.00,333.70) scale(1.03,1.07)" text-anchor="middle" font-size="9.4" fill="#222" stroke="#222" stroke-width="0.08">8</text>
<line x1="377.60" y1="320.3" x2="377.60" y2="322.3" stroke="#555" stroke-width="1"/>
<line x1="391.20" y1="320.3" x2="391.20" y2="323.90000000000003" stroke="#555" stroke-width="1"/>
<text transform="translate(391.20,333.70) scale(1.03,1.07)" text-anchor="middle" font-size="9.4" fill="#222" stroke="#222" stroke-width="0.08">12</text>
<line x1="404.80" y1="320.3" x2="404.80" y2="322.3" stroke="#555" stroke-width="1"/>
<line x1="418.40" y1="320.3" x2="418.40" y2="323.90000000000003" stroke="#555" stroke-width="1"/>
<text transform="translate(418.40,333.70) scale(1.03,1.07)" text-anchor="middle" font-size="9.4" fill="#222" stroke="#222" stroke-width="0.08">16</text>
<line x1="432.00" y1="320.3" x2="432.00" y2="322.3" stroke="#555" stroke-width="1"/>
<line x1="445.60" y1="320.3" x2="445.60" y2="323.90000000000003" stroke="#555" stroke-width="1"/>
<text transform="translate(445.60,333.70) scale(1.03,1.07)" text-anchor="middle" font-size="9.4" fill="#222" stroke="#222" stroke-width="0.08">20</text>
<line x1="459.20" y1="320.3" x2="459.20" y2="322.3" stroke="#555" stroke-width="1"/>
<line x1="472.80" y1="320.3" x2="472.80" y2="323.90000000000003" stroke="#555" stroke-width="1"/>
<text transform="translate(472.80,333.70) scale(1.03,1.07)" text-anchor="middle" font-size="9.4" fill="#222" stroke="#222" stroke-width="0.08">24</text>
<line x1="486.40" y1="320.3" x2="486.40" y2="322.3" stroke="#555" stroke-width="1"/>
<line x1="500.00" y1="320.3" x2="500.00" y2="323.90000000000003" stroke="#555" stroke-width="1"/>
<text transform="translate(500.00,333.70) scale(1.03,1.07)" text-anchor="middle" font-size="9.4" fill="#222" stroke="#222" stroke-width="0.08">28</text>
<text transform="translate(404.75,344.50) scale(1.0,1.08)" text-anchor="middle" font-size="9.8" fill="#222" stroke="#222" stroke-width="0.08">Release time (h)</text>
<text transform="translate(284.50,240.90) rotate(-90) scale(1.0,1.08)" text-anchor="middle" font-size="9.8" fill="#222" stroke="#222" stroke-width="0.08">Cumulative release (%)</text>
<text x="265" y="171" font-weight="bold" font-size="12.5" fill="#111">c)</text>
<path d="M309.60,316.30 C311.87,315.96 318.67,314.85 323.20,314.29 C327.73,313.72 332.27,313.33 336.80,312.89 C341.33,312.45 345.87,312.06 350.40,311.65 C354.93,311.24 359.47,310.75 364.00,310.41 C368.53,310.07 373.07,309.89 377.60,309.63 C382.13,309.38 386.67,309.07 391.20,308.86 C395.73,308.65 400.27,308.52 404.80,308.40 C409.33,308.27 413.87,308.19 418.40,308.09 C422.93,307.98 427.47,307.88 432.00,307.78 C436.53,307.67 441.07,307.54 445.60,307.47 C450.13,307.39 454.67,307.36 459.20,307.31 C463.73,307.26 468.27,307.21 472.80,307.16 C477.33,307.10 481.87,307.03 486.40,307.00 C490.93,306.97 497.73,307.00 500.00,307.00" fill="none" stroke="#111111" stroke-width="1.3"/>
<rect x="307.65" y="314.35" width="3.91" height="3.91" fill="#111111"/>
<rect x="321.25" y="312.33" width="3.91" height="3.91" fill="#111111"/>
<rect x="334.85" y="310.94" width="3.91" height="3.91" fill="#111111"/>
<rect x="348.45" y="309.70" width="3.91" height="3.91" fill="#111111"/>
<rect x="362.05" y="308.46" width="3.91" height="3.91" fill="#111111"/>
<rect x="375.65" y="307.68" width="3.91" height="3.91" fill="#111111"/>
<rect x="389.25" y="306.91" width="3.91" height="3.91" fill="#111111"/>
<rect x="402.85" y="306.44" width="3.91" height="3.91" fill="#111111"/>
<rect x="416.45" y="306.13" width="3.91" height="3.91" fill="#111111"/>
<rect x="430.05" y="305.82" width="3.91" height="3.91" fill="#111111"/>
<rect x="443.65" y="305.51" width="3.91" height="3.91" fill="#111111"/>
<rect x="457.25" y="305.36" width="3.91" height="3.91" fill="#111111"/>
<rect x="470.85" y="305.20" width="3.91" height="3.91" fill="#111111"/>
<rect x="484.44" y="305.05" width="3.91" height="3.91" fill="#111111"/>
<rect x="498.05" y="305.05" width="3.91" height="3.91" fill="#111111"/>
<path d="M309.60,315.53 V317.07 M307.60,315.53 h4 M307.60,317.07 h4" stroke="#c06070" stroke-width="0.9" fill="none"/>
<path d="M323.20,313.20 V314.75 M321.20,313.20 h4 M321.20,314.75 h4" stroke="#c06070" stroke-width="0.9" fill="none"/>
<path d="M336.80,311.65 V313.20 M334.80,311.65 h4 M334.80,313.20 h4" stroke="#c06070" stroke-width="0.9" fill="none"/>
<path d="M350.40,310.10 V311.65 M348.40,310.10 h4 M348.40,311.65 h4" stroke="#c06070" stroke-width="0.9" fill="none"/>
<path d="M364.00,309.02 V310.56 M362.00,309.02 h4 M362.00,310.56 h4" stroke="#c06070" stroke-width="0.9" fill="none"/>
<path d="M377.60,307.78 V309.32 M375.60,307.78 h4 M375.60,309.32 h4" stroke="#c06070" stroke-width="0.9" fill="none"/>
<path d="M391.20,307.00 V308.55 M389.20,307.00 h4 M389.20,308.55 h4" stroke="#c06070" stroke-width="0.9" fill="none"/>
<path d="M404.80,306.23 V307.77 M402.80,306.23 h4 M402.80,307.77 h4" stroke="#c06070" stroke-width="0.9" fill="none"/>
<path d="M418.40,305.92 V307.46 M416.40,305.92 h4 M416.40,307.46 h4" stroke="#c06070" stroke-width="0.9" fill="none"/>
<path d="M432.00,305.45 V307.00 M430.00,305.45 h4 M430.00,307.00 h4" stroke="#c06070" stroke-width="0.9" fill="none"/>
<path d="M445.60,305.14 V306.69 M443.60,305.14 h4 M443.60,306.69 h4" stroke="#c06070" stroke-width="0.9" fill="none"/>
<path d="M459.20,304.83 V306.38 M457.20,304.83 h4 M457.20,306.38 h4" stroke="#c06070" stroke-width="0.9" fill="none"/>
<path d="M472.80,304.68 V306.22 M470.80,304.68 h4 M470.80,306.22 h4" stroke="#c06070" stroke-width="0.9" fill="none"/>
<path d="M486.40,304.52 V306.07 M484.40,304.52 h4 M484.40,306.07 h4" stroke="#c06070" stroke-width="0.9" fill="none"/>
<path d="M500.00,304.37 V305.91 M498.00,304.37 h4 M498.00,305.91 h4" stroke="#c06070" stroke-width="0.9" fill="none"/>
<path d="M309.60,316.30 C311.87,315.91 318.67,314.62 323.20,313.98 C327.73,313.33 332.27,312.94 336.80,312.43 C341.33,311.91 345.87,311.31 350.40,310.88 C354.93,310.44 359.47,310.18 364.00,309.79 C368.53,309.40 373.07,308.89 377.60,308.55 C382.13,308.21 386.67,308.03 391.20,307.78 C395.73,307.52 400.27,307.18 404.80,307.00 C409.33,306.82 413.87,306.82 418.40,306.69 C422.93,306.56 427.47,306.35 432.00,306.23 C436.53,306.10 441.07,306.02 445.60,305.92 C450.13,305.81 454.67,305.68 459.20,305.61 C463.73,305.53 468.27,305.50 472.80,305.45 C477.33,305.40 481.87,305.35 486.40,305.30 C490.93,305.24 497.73,305.17 500.00,305.14" fill="none" stroke="#c23350" stroke-width="1.3"/>
<circle cx="309.60" cy="316.30" r="2.12" fill="#c23350"/>
<circle cx="323.20" cy="313.98" r="2.12" fill="#c23350"/>
<circle cx="336.80" cy="312.43" r="2.12" fill="#c23350"/>
<circle cx="350.40" cy="310.88" r="2.12" fill="#c23350"/>
<circle cx="364.00" cy="309.79" r="2.12" fill="#c23350"/>
<circle cx="377.60" cy="308.55" r="2.12" fill="#c23350"/>
<circle cx="391.20" cy="307.78" r="2.12" fill="#c23350"/>
<circle cx="404.80" cy="307.00" r="2.12" fill="#c23350"/>
<circle cx="418.40" cy="306.69" r="2.12" fill="#c23350"/>
<circle cx="432.00" cy="306.23" r="2.12" fill="#c23350"/>
<circle cx="445.60" cy="305.92" r="2.12" fill="#c23350"/>
<circle cx="459.20" cy="305.61" r="2.12" fill="#c23350"/>
<circle cx="472.80" cy="305.45" r="2.12" fill="#c23350"/>
<circle cx="486.40" cy="305.30" r="2.12" fill="#c23350"/>
<circle cx="500.00" cy="305.14" r="2.12" fill="#c23350"/>
<path d="M323.20,288.87 V295.07 M321.20,288.87 h4 M321.20,295.07 h4" stroke="#7ab8b0" stroke-width="0.9" fill="none"/>
<path d="M336.80,267.48 V276.77 M334.80,267.48 h4 M334.80,276.77 h4" stroke="#7ab8b0" stroke-width="0.9" fill="none"/>
<path d="M350.40,246.55 V258.95 M348.40,246.55 h4 M348.40,258.95 h4" stroke="#7ab8b0" stroke-width="0.9" fill="none"/>
<path d="M364.00,229.04 V244.54 M362.00,229.04 h4 M362.00,244.54 h4" stroke="#7ab8b0" stroke-width="0.9" fill="none"/>
<path d="M377.60,215.09 V232.14 M375.60,215.09 h4 M375.60,232.14 h4" stroke="#7ab8b0" stroke-width="0.9" fill="none"/>
<path d="M391.20,204.70 V223.30 M389.20,204.70 h4 M389.20,223.30 h4" stroke="#7ab8b0" stroke-width="0.9" fill="none"/>
<path d="M404.80,196.02 V214.62 M402.80,196.02 h4 M402.80,214.62 h4" stroke="#7ab8b0" stroke-width="0.9" fill="none"/>
<path d="M418.40,191.22 V206.72 M416.40,191.22 h4 M416.40,206.72 h4" stroke="#7ab8b0" stroke-width="0.9" fill="none"/>
<path d="M432.00,187.96 V201.91 M430.00,187.96 h4 M430.00,201.91 h4" stroke="#7ab8b0" stroke-width="0.9" fill="none"/>
<path d="M445.60,186.72 V196.02 M443.60,186.72 h4 M443.60,196.02 h4" stroke="#7ab8b0" stroke-width="0.9" fill="none"/>
<path d="M459.20,185.32 V193.07 M457.20,185.32 h4 M457.20,193.07 h4" stroke="#7ab8b0" stroke-width="0.9" fill="none"/>
<path d="M472.80,184.40 V192.15 M470.80,184.40 h4 M470.80,192.15 h4" stroke="#7ab8b0" stroke-width="0.9" fill="none"/>
<path d="M486.40,182.54 V190.29 M484.40,182.54 h4 M484.40,190.29 h4" stroke="#7ab8b0" stroke-width="0.9" fill="none"/>
<path d="M500.00,182.07 V188.27 M498.00,182.07 h4 M498.00,188.27 h4" stroke="#7ab8b0" stroke-width="0.9" fill="none"/>
<path d="M309.60,316.30 C311.87,312.24 318.67,299.33 323.20,291.97 C327.73,284.60 332.27,278.66 336.80,272.12 C341.33,265.59 345.87,258.64 350.40,252.75 C354.93,246.86 359.47,241.64 364.00,236.79 C368.53,231.93 373.07,227.41 377.60,223.61 C382.13,219.81 386.67,217.05 391.20,214.00 C395.73,210.95 400.27,207.83 404.80,205.32 C409.33,202.81 413.87,200.70 418.40,198.97 C422.93,197.23 427.47,196.20 432.00,194.94 C436.53,193.67 441.07,192.33 445.60,191.37 C450.13,190.41 454.67,189.72 459.20,189.20 C463.73,188.68 468.27,188.74 472.80,188.27 C477.33,187.81 481.87,186.93 486.40,186.41 C490.93,185.89 497.73,185.38 500.00,185.17" fill="none" stroke="#45b2a2" stroke-width="1.3"/>
<polygon points="309.60,313.75 312.15,316.30 309.60,318.85 307.05,316.30" fill="#45b2a2"/>
<polygon points="323.20,289.42 325.75,291.97 323.20,294.52 320.65,291.97" fill="#45b2a2"/>
<polygon points="336.80,269.57 339.35,272.12 336.80,274.68 334.25,272.12" fill="#45b2a2"/>
<polygon points="350.40,250.20 352.95,252.75 350.40,255.30 347.85,252.75" fill="#45b2a2"/>
<polygon points="364.00,234.24 366.55,236.79 364.00,239.34 361.45,236.79" fill="#45b2a2"/>
<polygon points="377.60,221.06 380.15,223.61 377.60,226.16 375.05,223.61" fill="#45b2a2"/>
<polygon points="391.20,211.45 393.75,214.00 391.20,216.55 388.65,214.00" fill="#45b2a2"/>
<polygon points="404.80,202.77 407.35,205.32 404.80,207.87 402.25,205.32" fill="#45b2a2"/>
<polygon points="418.40,196.41 420.95,198.97 418.40,201.52 415.85,198.97" fill="#45b2a2"/>
<polygon points="432.00,192.38 434.55,194.94 432.00,197.49 429.45,194.94" fill="#45b2a2"/>
<polygon points="445.60,188.82 448.15,191.37 445.60,193.92 443.05,191.37" fill="#45b2a2"/>
<polygon points="459.20,186.65 461.75,189.20 459.20,191.75 456.65,189.20" fill="#45b2a2"/>
<polygon points="472.80,185.72 475.35,188.27 472.80,190.82 470.25,188.27" fill="#45b2a2"/>
<polygon points="486.40,183.86 488.95,186.41 486.40,188.96 483.85,186.41" fill="#45b2a2"/>
<polygon points="500.00,182.62 502.55,185.17 500.00,187.72 497.45,185.17" fill="#45b2a2"/>
<path d="M323.20,286.85 V293.05 M321.20,286.85 h4 M321.20,293.05 h4" stroke="#7878a8" stroke-width="0.9" fill="none"/>
<path d="M336.80,260.04 V269.33 M334.80,260.04 h4 M334.80,269.33 h4" stroke="#7878a8" stroke-width="0.9" fill="none"/>
<path d="M350.40,237.25 V249.65 M348.40,237.25 h4 M348.40,249.65 h4" stroke="#7878a8" stroke-width="0.9" fill="none"/>
<path d="M364.00,214.93 V233.53 M362.00,214.93 h4 M362.00,233.53 h4" stroke="#7878a8" stroke-width="0.9" fill="none"/>
<path d="M377.60,196.33 V218.03 M375.60,196.33 h4 M375.60,218.03 h4" stroke="#7878a8" stroke-width="0.9" fill="none"/>
<path d="M391.20,187.03 V199.43 M389.20,187.03 h4 M389.20,199.43 h4" stroke="#7878a8" stroke-width="0.9" fill="none"/>
<path d="M404.80,179.12 V188.43 M402.80,179.12 h4 M402.80,188.43 h4" stroke="#7878a8" stroke-width="0.9" fill="none"/>
<path d="M418.40,175.56 V181.76 M416.40,175.56 h4 M416.40,181.76 h4" stroke="#7878a8" stroke-width="0.9" fill="none"/>
<path d="M432.00,173.39 V179.59 M430.00,173.39 h4 M430.00,179.59 h4" stroke="#7878a8" stroke-width="0.9" fill="none"/>
<path d="M445.60,172.62 V177.26 M443.60,172.62 h4 M443.60,177.26 h4" stroke="#7878a8" stroke-width="0.9" fill="none"/>
<path d="M459.20,171.07 V175.72 M457.20,171.07 h4 M457.20,175.72 h4" stroke="#7878a8" stroke-width="0.9" fill="none"/>
<path d="M472.80,170.29 V174.01 M470.80,170.29 h4 M470.80,174.01 h4" stroke="#7878a8" stroke-width="0.9" fill="none"/>
<path d="M486.40,169.67 V172.77 M484.40,169.67 h4 M484.40,172.77 h4" stroke="#7878a8" stroke-width="0.9" fill="none"/>
<path d="M500.00,169.05 V172.15 M498.00,169.05 h4 M498.00,172.15 h4" stroke="#7878a8" stroke-width="0.9" fill="none"/>
<path d="M309.60,316.30 C311.87,311.91 318.67,298.55 323.20,289.95 C327.73,281.35 332.27,272.44 336.80,264.69 C341.33,256.94 345.87,250.19 350.40,243.45 C354.93,236.71 359.47,230.28 364.00,224.23 C368.53,218.19 373.07,212.35 377.60,207.18 C382.13,202.01 386.67,197.13 391.20,193.23 C395.73,189.33 400.27,186.20 404.80,183.78 C409.33,181.35 413.87,179.87 418.40,178.66 C422.93,177.45 427.47,177.11 432.00,176.49 C436.53,175.87 441.07,175.46 445.60,174.94 C450.13,174.42 454.67,173.86 459.20,173.39 C463.73,172.93 468.27,172.51 472.80,172.15 C477.33,171.79 481.87,171.48 486.40,171.22 C490.93,170.96 497.73,170.70 500.00,170.60" fill="none" stroke="#43408e" stroke-width="1.3"/>
<polygon points="309.60,313.75 310.25,315.41 312.03,315.51 310.65,316.64 311.10,318.36 309.60,317.41 308.10,318.36 308.55,316.64 307.17,315.51 308.95,315.41" fill="#43408e"/>
<polygon points="323.20,287.40 323.85,289.06 325.63,289.16 324.25,290.29 324.70,292.01 323.20,291.06 321.70,292.01 322.15,290.29 320.77,289.16 322.55,289.06" fill="#43408e"/>
<polygon points="336.80,262.13 337.45,263.79 339.23,263.90 337.85,265.03 338.30,266.75 336.80,265.79 335.30,266.75 335.75,265.03 334.37,263.90 336.15,263.79" fill="#43408e"/>
<polygon points="350.40,240.90 351.05,242.56 352.83,242.66 351.45,243.79 351.90,245.51 350.40,244.55 348.90,245.51 349.35,243.79 347.97,242.66 349.75,242.56" fill="#43408e"/>
<polygon points="364.00,221.68 364.65,223.34 366.43,223.44 365.05,224.57 365.50,226.29 364.00,225.34 362.50,226.29 362.95,224.57 361.57,223.44 363.35,223.34" fill="#43408e"/>
<polygon points="377.60,204.63 378.25,206.29 380.03,206.39 378.65,207.52 379.10,209.24 377.60,208.28 376.10,209.24 376.55,207.52 375.17,206.39 376.95,206.29" fill="#43408e"/>
<polygon points="391.20,190.68 391.85,192.34 393.63,192.44 392.25,193.57 392.70,195.29 391.20,194.34 389.70,195.29 390.15,193.57 388.77,192.44 390.55,192.34" fill="#43408e"/>
<polygon points="404.80,181.22 405.45,182.88 407.23,182.99 405.85,184.12 406.30,185.84 404.80,184.88 403.30,185.84 403.75,184.12 402.37,182.99 404.15,182.88" fill="#43408e"/>
<polygon points="418.40,176.11 419.05,177.77 420.83,177.87 419.45,179.00 419.90,180.72 418.40,179.77 416.90,180.72 417.35,179.00 415.97,177.87 417.75,177.77" fill="#43408e"/>
<polygon points="432.00,173.94 432.65,175.60 434.43,175.70 433.05,176.83 433.50,178.55 432.00,177.59 430.50,178.55 430.95,176.83 429.57,175.70 431.35,175.60" fill="#43408e"/>
<polygon points="445.60,172.39 446.25,174.05 448.03,174.15 446.65,175.28 447.10,177.00 445.60,176.04 444.10,177.00 444.55,175.28 443.17,174.15 444.95,174.05" fill="#43408e"/>
<polygon points="459.20,170.84 459.85,172.50 461.63,172.60 460.25,173.73 460.70,175.45 459.20,174.50 457.70,175.45 458.15,173.73 456.77,172.60 458.55,172.50" fill="#43408e"/>
<polygon points="472.80,169.60 473.45,171.26 475.23,171.36 473.85,172.49 474.30,174.21 472.80,173.25 471.30,174.21 471.75,172.49 470.37,171.36 472.15,171.26" fill="#43408e"/>
<polygon points="486.40,168.67 487.05,170.33 488.83,170.43 487.45,171.56 487.90,173.28 486.40,172.33 484.90,173.28 485.35,171.56 483.97,170.43 485.75,170.33" fill="#43408e"/>
<polygon points="500.00,168.05 500.65,169.71 502.43,169.81 501.05,170.94 501.50,172.66 500.00,171.70 498.50,172.66 498.95,170.94 497.57,169.81 499.35,169.71" fill="#43408e"/>
<rect x="307.8" y="165" width="50" height="42.5" fill="#fff" stroke="#888" stroke-width="0.8"/>
<line x1="309.3" y1="171.00" x2="327.3" y2="171.00" stroke="#111111" stroke-width="1.5"/>
<rect x="316.00" y="168.70" width="4.60" height="4.60" fill="#111111"/>
<text x="329.8" y="174.00" font-size="8.3" fill="#222" stroke="#222" stroke-width="0.08">0 <tspan font-family='Liberation Serif' font-size='8.6'>μ</tspan>M</text>
<line x1="309.3" y1="181.20" x2="327.3" y2="181.20" stroke="#c23350" stroke-width="1.5"/>
<circle cx="318.30" cy="181.20" r="2.50" fill="#c23350"/>
<text x="329.8" y="184.20" font-size="8.3" fill="#222" stroke="#222" stroke-width="0.08">60 <tspan font-family='Liberation Serif' font-size='8.6'>μ</tspan>M</text>
<line x1="309.3" y1="191.40" x2="327.3" y2="191.40" stroke="#45b2a2" stroke-width="1.5"/>
<polygon points="318.30,188.40 321.30,191.40 318.30,194.40 315.30,191.40" fill="#45b2a2"/>
<text x="329.8" y="194.40" font-size="8.3" fill="#222" stroke="#222" stroke-width="0.08">150 <tspan font-family='Liberation Serif' font-size='8.6'>μ</tspan>M</text>
<line x1="309.3" y1="201.60" x2="327.3" y2="201.60" stroke="#43408e" stroke-width="1.5"/>
<polygon points="318.30,198.60 319.06,200.55 321.15,200.67 319.54,202.00 320.06,204.03 318.30,202.90 316.54,204.03 317.06,202.00 315.45,200.67 317.54,200.55" fill="#43408e"/>
<text x="329.8" y="204.60" font-size="8.3" fill="#222" stroke="#222" stroke-width="0.08">300 <tspan font-family='Liberation Serif' font-size='8.6'>μ</tspan>M</text>
<rect x="45.3" y="362.5" width="197.7" height="159.0" fill="none" stroke="#555" stroke-width="1.1"/>
<line x1="41.699999999999996" y1="517.10" x2="45.3" y2="517.10" stroke="#555" stroke-width="1"/>
<text transform="translate(39.30,520.30) scale(1.03,1.07)" text-anchor="end" font-size="9.4" fill="#222" stroke="#222" stroke-width="0.08">0</text>
<line x1="43.3" y1="501.60" x2="45.3" y2="501.60" stroke="#555" stroke-width="1"/>
<line x1="41.699999999999996" y1="486.10" x2="45.3" y2="486.10" stroke="#555" stroke-width="1"/>
<text transform="translate(39.30,489.30) scale(1.03,1.07)" text-anchor="end" font-size="9.4" fill="#222" stroke="#222" stroke-width="0.08">20</text>
<line x1="43.3" y1="470.60" x2="45.3" y2="470.60" stroke="#555" stroke-width="1"/>
<line x1="41.699999999999996" y1="455.10" x2="45.3" y2="455.10" stroke="#555" stroke-width="1"/>
<text transform="translate(39.30,458.30) scale(1.03,1.07)" text-anchor="end" font-size="9.4" fill="#222" stroke="#222" stroke-width="0.08">40</text>
<line x1="43.3" y1="439.60" x2="45.3" y2="439.60" stroke="#555" stroke-width="1"/>
<line x1="41.699999999999996" y1="424.10" x2="45.3" y2="424.10" stroke="#555" stroke-width="1"/>
<text transform="translate(39.30,427.30) scale(1.03,1.07)" text-anchor="end" font-size="9.4" fill="#222" stroke="#222" stroke-width="0.08">60</text>
<line x1="43.3" y1="408.60" x2="45.3" y2="408.60" stroke="#555" stroke-width="1"/>
<line x1="41.699999999999996" y1="393.10" x2="45.3" y2="393.10" stroke="#555" stroke-width="1"/>
<text transform="translate(39.30,396.30) scale(1.03,1.07)" text-anchor="end" font-size="9.4" fill="#222" stroke="#222" stroke-width="0.08">80</text>
<line x1="43.3" y1="377.60" x2="45.3" y2="377.60" stroke="#555" stroke-width="1"/>
<line x1="41.699999999999996" y1="362.10" x2="45.3" y2="362.10" stroke="#555" stroke-width="1"/>
<text transform="translate(39.30,365.30) scale(1.03,1.07)" text-anchor="end" font-size="9.4" fill="#222" stroke="#222" stroke-width="0.08">100</text>
<line x1="48.70" y1="521.5" x2="48.70" y2="525.1" stroke="#555" stroke-width="1"/>
<text transform="translate(48.70,534.90) scale(1.03,1.07)" text-anchor="middle" font-size="9.4" fill="#222" stroke="#222" stroke-width="0.08">0</text>
<line x1="62.34" y1="521.5" x2="62.34" y2="523.5" stroke="#555" stroke-width="1"/>
<line x1="75.98" y1="521.5" x2="75.98" y2="525.1" stroke="#555" stroke-width="1"/>
<text transform="translate(75.98,534.90) scale(1.03,1.07)" text-anchor="middle" font-size="9.4" fill="#222" stroke="#222" stroke-width="0.08">4</text>
<line x1="89.62" y1="521.5" x2="89.62" y2="523.5" stroke="#555" stroke-width="1"/>
<line x1="103.26" y1="521.5" x2="103.26" y2="525.1" stroke="#555" stroke-width="1"/>
<text transform="translate(103.26,534.90) scale(1.03,1.07)" text-anchor="middle" font-size="9.4" fill="#222" stroke="#222" stroke-width="0.08">8</text>
<line x1="116.90" y1="521.5" x2="116.90" y2="523.5" stroke="#555" stroke-width="1"/>
<line x1="130.54" y1="521.5" x2="130.54" y2="525.1" stroke="#555" stroke-width="1"/>
<text transform="translate(130.54,534.90) scale(1.03,1.07)" text-anchor="middle" font-size="9.4" fill="#222" stroke="#222" stroke-width="0.08">12</text>
<line x1="144.18" y1="521.5" x2="144.18" y2="523.5" stroke="#555" stroke-width="1"/>
<line x1="157.82" y1="521.5" x2="157.82" y2="525.1" stroke="#555" stroke-width="1"/>
<text transform="translate(157.82,534.90) scale(1.03,1.07)" text-anchor="middle" font-size="9.4" fill="#222" stroke="#222" stroke-width="0.08">16</text>
<line x1="171.46" y1="521.5" x2="171.46" y2="523.5" stroke="#555" stroke-width="1"/>
<line x1="185.10" y1="521.5" x2="185.10" y2="525.1" stroke="#555" stroke-width="1"/>
<text transform="translate(185.10,534.90) scale(1.03,1.07)" text-anchor="middle" font-size="9.4" fill="#222" stroke="#222" stroke-width="0.08">20</text>
<line x1="198.74" y1="521.5" x2="198.74" y2="523.5" stroke="#555" stroke-width="1"/>
<line x1="212.38" y1="521.5" x2="212.38" y2="525.1" stroke="#555" stroke-width="1"/>
<text transform="translate(212.38,534.90) scale(1.03,1.07)" text-anchor="middle" font-size="9.4" fill="#222" stroke="#222" stroke-width="0.08">24</text>
<line x1="226.02" y1="521.5" x2="226.02" y2="523.5" stroke="#555" stroke-width="1"/>
<line x1="239.66" y1="521.5" x2="239.66" y2="525.1" stroke="#555" stroke-width="1"/>
<text transform="translate(239.66,534.90) scale(1.03,1.07)" text-anchor="middle" font-size="9.4" fill="#222" stroke="#222" stroke-width="0.08">28</text>
<text transform="translate(144.15,545.70) scale(1.0,1.08)" text-anchor="middle" font-size="9.8" fill="#222" stroke="#222" stroke-width="0.08">Release time (h)</text>
<text transform="translate(24.90,442.00) rotate(-90) scale(1.0,1.08)" text-anchor="middle" font-size="9.8" fill="#222" stroke="#222" stroke-width="0.08">Cumulative release (%)</text>
<text x="6.5" y="370.5" font-weight="bold" font-size="12.5" fill="#111">d)</text>
<path d="M48.70,517.10 C50.97,516.87 57.79,516.17 62.34,515.71 C66.89,515.24 71.43,514.72 75.98,514.31 C80.53,513.90 85.07,513.54 89.62,513.23 C94.17,512.91 98.71,512.68 103.26,512.45 C107.81,512.22 112.35,512.01 116.90,511.83 C121.45,511.65 125.99,511.49 130.54,511.37 C135.09,511.24 139.63,511.16 144.18,511.06 C148.73,510.95 153.27,510.85 157.82,510.75 C162.37,510.64 166.91,510.51 171.46,510.44 C176.01,510.36 180.55,510.33 185.10,510.28 C189.65,510.23 194.19,510.18 198.74,510.12 C203.29,510.07 207.83,510.00 212.38,509.97 C216.93,509.94 221.47,510.00 226.02,509.97 C230.57,509.94 237.39,509.84 239.66,509.81" fill="none" stroke="#111111" stroke-width="1.3"/>
<rect x="46.75" y="515.14" width="3.91" height="3.91" fill="#111111"/>
<rect x="60.39" y="513.75" width="3.91" height="3.91" fill="#111111"/>
<rect x="74.03" y="512.36" width="3.91" height="3.91" fill="#111111"/>
<rect x="87.67" y="511.27" width="3.91" height="3.91" fill="#111111"/>
<rect x="101.31" y="510.50" width="3.91" height="3.91" fill="#111111"/>
<rect x="114.95" y="509.88" width="3.91" height="3.91" fill="#111111"/>
<rect x="128.59" y="509.41" width="3.91" height="3.91" fill="#111111"/>
<rect x="142.22" y="509.10" width="3.91" height="3.91" fill="#111111"/>
<rect x="155.86" y="508.79" width="3.91" height="3.91" fill="#111111"/>
<rect x="169.50" y="508.48" width="3.91" height="3.91" fill="#111111"/>
<rect x="183.15" y="508.33" width="3.91" height="3.91" fill="#111111"/>
<rect x="196.78" y="508.17" width="3.91" height="3.91" fill="#111111"/>
<rect x="210.42" y="508.02" width="3.91" height="3.91" fill="#111111"/>
<rect x="224.06" y="508.02" width="3.91" height="3.91" fill="#111111"/>
<rect x="237.71" y="507.86" width="3.91" height="3.91" fill="#111111"/>
<path d="M48.70,517.10 C50.97,516.84 57.79,516.04 62.34,515.55 C66.89,515.06 71.43,514.57 75.98,514.15 C80.53,513.74 85.07,513.38 89.62,513.07 C94.17,512.76 98.71,512.53 103.26,512.30 C107.81,512.06 112.35,511.86 116.90,511.68 C121.45,511.49 125.99,511.34 130.54,511.21 C135.09,511.08 139.63,511.00 144.18,510.90 C148.73,510.80 153.27,510.69 157.82,510.59 C162.37,510.49 166.91,510.36 171.46,510.28 C176.01,510.20 180.55,510.18 185.10,510.12 C189.65,510.07 194.19,510.02 198.74,509.97 C203.29,509.92 207.83,509.87 212.38,509.81 C216.93,509.76 221.47,509.71 226.02,509.66 C230.57,509.61 237.39,509.53 239.66,509.50" fill="none" stroke="#c23350" stroke-width="1.3"/>
<circle cx="48.70" cy="517.10" r="2.12" fill="#c23350"/>
<circle cx="62.34" cy="515.55" r="2.12" fill="#c23350"/>
<circle cx="75.98" cy="514.15" r="2.12" fill="#c23350"/>
<circle cx="89.62" cy="513.07" r="2.12" fill="#c23350"/>
<circle cx="103.26" cy="512.30" r="2.12" fill="#c23350"/>
<circle cx="116.90" cy="511.68" r="2.12" fill="#c23350"/>
<circle cx="130.54" cy="511.21" r="2.12" fill="#c23350"/>
<circle cx="144.18" cy="510.90" r="2.12" fill="#c23350"/>
<circle cx="157.82" cy="510.59" r="2.12" fill="#c23350"/>
<circle cx="171.46" cy="510.28" r="2.12" fill="#c23350"/>
<circle cx="185.10" cy="510.12" r="2.12" fill="#c23350"/>
<circle cx="198.74" cy="509.97" r="2.12" fill="#c23350"/>
<circle cx="212.38" cy="509.81" r="2.12" fill="#c23350"/>
<circle cx="226.02" cy="509.66" r="2.12" fill="#c23350"/>
<circle cx="239.66" cy="509.50" r="2.12" fill="#c23350"/>
<path d="M48.70,517.10 C50.97,516.79 57.79,515.81 62.34,515.24 C66.89,514.67 71.43,514.16 75.98,513.69 C80.53,513.23 85.07,512.79 89.62,512.45 C94.17,512.11 98.71,511.91 103.26,511.68 C107.81,511.44 112.35,511.24 116.90,511.06 C121.45,510.87 125.99,510.75 130.54,510.59 C135.09,510.44 139.63,510.25 144.18,510.12 C148.73,510.00 153.27,509.92 157.82,509.81 C162.37,509.71 166.91,509.58 171.46,509.50 C176.01,509.43 180.55,509.40 185.10,509.35 C189.65,509.30 194.19,509.25 198.74,509.20 C203.29,509.14 207.83,509.09 212.38,509.04 C216.93,508.99 221.47,508.94 226.02,508.89 C230.57,508.83 237.39,508.76 239.66,508.73" fill="none" stroke="#45b2a2" stroke-width="1.3"/>
<polygon points="48.70,514.55 51.25,517.10 48.70,519.65 46.15,517.10" fill="#45b2a2"/>
<polygon points="62.34,512.69 64.89,515.24 62.34,517.79 59.79,515.24" fill="#45b2a2"/>
<polygon points="75.98,511.14 78.53,513.69 75.98,516.24 73.43,513.69" fill="#45b2a2"/>
<polygon points="89.62,509.90 92.17,512.45 89.62,515.00 87.07,512.45" fill="#45b2a2"/>
<polygon points="103.26,509.12 105.81,511.68 103.26,514.23 100.71,511.68" fill="#45b2a2"/>
<polygon points="116.90,508.50 119.45,511.06 116.90,513.61 114.35,511.06" fill="#45b2a2"/>
<polygon points="130.54,508.04 133.09,510.59 130.54,513.14 127.99,510.59" fill="#45b2a2"/>
<polygon points="144.18,507.57 146.73,510.12 144.18,512.67 141.63,510.12" fill="#45b2a2"/>
<polygon points="157.82,507.26 160.37,509.81 157.82,512.37 155.27,509.81" fill="#45b2a2"/>
<polygon points="171.46,506.95 174.01,509.50 171.46,512.05 168.91,509.50" fill="#45b2a2"/>
<polygon points="185.10,506.80 187.65,509.35 185.10,511.90 182.55,509.35" fill="#45b2a2"/>
<polygon points="198.74,506.65 201.29,509.20 198.74,511.75 196.19,509.20" fill="#45b2a2"/>
<polygon points="212.38,506.49 214.93,509.04 212.38,511.59 209.83,509.04" fill="#45b2a2"/>
<polygon points="226.02,506.34 228.57,508.89 226.02,511.44 223.47,508.89" fill="#45b2a2"/>
<polygon points="239.66,506.18 242.21,508.73 239.66,511.28 237.11,508.73" fill="#45b2a2"/>
<path d="M62.34,495.09 V499.74 M60.34,495.09 h4 M60.34,499.74 h4" stroke="#7878a8" stroke-width="0.9" fill="none"/>
<path d="M75.98,478.04 V484.24 M73.98,478.04 h4 M73.98,484.24 h4" stroke="#7878a8" stroke-width="0.9" fill="none"/>
<path d="M89.62,461.46 V470.75 M87.62,461.46 h4 M87.62,470.75 h4" stroke="#7878a8" stroke-width="0.9" fill="none"/>
<path d="M103.26,445.18 V459.13 M101.26,445.18 h4 M101.26,459.13 h4" stroke="#7878a8" stroke-width="0.9" fill="none"/>
<path d="M116.90,433.09 V448.59 M114.90,433.09 h4 M114.90,448.59 h4" stroke="#7878a8" stroke-width="0.9" fill="none"/>
<path d="M130.54,425.65 V441.15 M128.54,425.65 h4 M128.54,441.15 h4" stroke="#7878a8" stroke-width="0.9" fill="none"/>
<path d="M144.18,419.30 V434.80 M142.18,419.30 h4 M142.18,434.80 h4" stroke="#7878a8" stroke-width="0.9" fill="none"/>
<path d="M157.82,415.88 V429.84 M155.82,415.88 h4 M155.82,429.84 h4" stroke="#7878a8" stroke-width="0.9" fill="none"/>
<path d="M171.46,413.25 V425.65 M169.46,413.25 h4 M169.46,425.65 h4" stroke="#7878a8" stroke-width="0.9" fill="none"/>
<path d="M185.10,411.08 V421.93 M183.10,411.08 h4 M183.10,421.93 h4" stroke="#7878a8" stroke-width="0.9" fill="none"/>
<path d="M198.74,410.77 V418.52 M196.74,410.77 h4 M196.74,418.52 h4" stroke="#7878a8" stroke-width="0.9" fill="none"/>
<path d="M212.38,409.53 V415.73 M210.38,409.53 h4 M210.38,415.73 h4" stroke="#7878a8" stroke-width="0.9" fill="none"/>
<path d="M226.02,408.44 V414.65 M224.02,408.44 h4 M224.02,414.65 h4" stroke="#7878a8" stroke-width="0.9" fill="none"/>
<path d="M239.66,407.67 V413.87 M237.66,407.67 h4 M237.66,413.87 h4" stroke="#7878a8" stroke-width="0.9" fill="none"/>
<path d="M48.70,517.10 C50.97,513.82 57.79,503.41 62.34,497.42 C66.89,491.42 71.43,486.36 75.98,481.14 C80.53,475.92 85.07,470.94 89.62,466.11 C94.17,461.27 98.71,456.37 103.26,452.16 C107.81,447.94 112.35,443.97 116.90,440.84 C121.45,437.71 125.99,435.70 130.54,433.40 C135.09,431.10 139.63,428.80 144.18,427.05 C148.73,425.29 153.27,424.13 157.82,422.86 C162.37,421.59 166.91,420.51 171.46,419.45 C176.01,418.39 180.55,417.31 185.10,416.50 C189.65,415.70 194.19,415.29 198.74,414.65 C203.29,414.00 207.83,413.15 212.38,412.63 C216.93,412.11 221.47,411.86 226.02,411.55 C230.57,411.24 237.39,410.90 239.66,410.77" fill="none" stroke="#43408e" stroke-width="1.3"/>
<polygon points="48.70,514.55 49.35,516.21 51.13,516.31 49.75,517.44 50.20,519.16 48.70,518.21 47.20,519.16 47.65,517.44 46.27,516.31 48.05,516.21" fill="#43408e"/>
<polygon points="62.34,494.87 62.99,496.52 64.77,496.63 63.39,497.76 63.84,499.48 62.34,498.52 60.84,499.48 61.29,497.76 59.91,496.63 61.69,496.52" fill="#43408e"/>
<polygon points="75.98,478.59 76.63,480.25 78.41,480.35 77.03,481.48 77.48,483.20 75.98,482.25 74.48,483.20 74.93,481.48 73.55,480.35 75.33,480.25" fill="#43408e"/>
<polygon points="89.62,463.56 90.27,465.21 92.05,465.32 90.67,466.45 91.12,468.17 89.62,467.21 88.12,468.17 88.57,466.45 87.19,465.32 88.97,465.21" fill="#43408e"/>
<polygon points="103.26,449.61 103.91,451.26 105.69,451.37 104.31,452.50 104.76,454.22 103.26,453.26 101.76,454.22 102.21,452.50 100.83,451.37 102.61,451.26" fill="#43408e"/>
<polygon points="116.90,438.29 117.55,439.95 119.33,440.05 117.95,441.18 118.40,442.90 116.90,441.95 115.40,442.90 115.85,441.18 114.47,440.05 116.25,439.95" fill="#43408e"/>
<polygon points="130.54,430.85 131.19,432.51 132.97,432.61 131.59,433.74 132.04,435.46 130.54,434.51 129.04,435.46 129.49,433.74 128.11,432.61 129.89,432.51" fill="#43408e"/>
<polygon points="144.18,424.50 144.83,426.15 146.61,426.26 145.23,427.39 145.68,429.11 144.18,428.15 142.68,429.11 143.13,427.39 141.75,426.26 143.53,426.15" fill="#43408e"/>
<polygon points="157.82,420.31 158.47,421.97 160.25,422.07 158.87,423.20 159.32,424.92 157.82,423.97 156.32,424.92 156.77,423.20 155.39,422.07 157.17,421.97" fill="#43408e"/>
<polygon points="171.46,416.90 172.11,418.56 173.89,418.66 172.51,419.79 172.96,421.51 171.46,420.56 169.96,421.51 170.41,419.79 169.03,418.66 170.81,418.56" fill="#43408e"/>
<polygon points="185.10,413.95 185.75,415.61 187.53,415.72 186.15,416.85 186.60,418.57 185.10,417.61 183.60,418.57 184.05,416.85 182.67,415.72 184.45,415.61" fill="#43408e"/>
<polygon points="198.74,412.10 199.39,413.75 201.17,413.86 199.79,414.99 200.24,416.71 198.74,415.75 197.24,416.71 197.69,414.99 196.31,413.86 198.09,413.75" fill="#43408e"/>
<polygon points="212.38,410.08 213.03,411.74 214.81,411.84 213.43,412.97 213.88,414.69 212.38,413.74 210.88,414.69 211.33,412.97 209.95,411.84 211.73,411.74" fill="#43408e"/>
<polygon points="226.02,409.00 226.67,410.65 228.45,410.76 227.07,411.89 227.52,413.61 226.02,412.65 224.52,413.61 224.97,411.89 223.59,410.76 225.37,410.65" fill="#43408e"/>
<polygon points="239.66,408.22 240.31,409.88 242.09,409.98 240.71,411.11 241.16,412.83 239.66,411.88 238.16,412.83 238.61,411.11 237.23,409.98 239.01,409.88" fill="#43408e"/>
<rect x="48" y="365.5" width="50" height="42.5" fill="#fff" stroke="#888" stroke-width="0.8"/>
<line x1="49.5" y1="371.50" x2="67.5" y2="371.50" stroke="#111111" stroke-width="1.5"/>
<rect x="56.20" y="369.20" width="4.60" height="4.60" fill="#111111"/>
<text x="70" y="374.50" font-size="8.3" fill="#222" stroke="#222" stroke-width="0.08">0 <tspan font-family='Liberation Serif' font-size='8.6'>μ</tspan>M</text>
<line x1="49.5" y1="381.70" x2="67.5" y2="381.70" stroke="#c23350" stroke-width="1.5"/>
<circle cx="58.50" cy="381.70" r="2.50" fill="#c23350"/>
<text x="70" y="384.70" font-size="8.3" fill="#222" stroke="#222" stroke-width="0.08">60 <tspan font-family='Liberation Serif' font-size='8.6'>μ</tspan>M</text>
<line x1="49.5" y1="391.90" x2="67.5" y2="391.90" stroke="#45b2a2" stroke-width="1.5"/>
<polygon points="58.50,388.90 61.50,391.90 58.50,394.90 55.50,391.90" fill="#45b2a2"/>
<text x="70" y="394.90" font-size="8.3" fill="#222" stroke="#222" stroke-width="0.08">150 <tspan font-family='Liberation Serif' font-size='8.6'>μ</tspan>M</text>
<line x1="49.5" y1="402.10" x2="67.5" y2="402.10" stroke="#43408e" stroke-width="1.5"/>
<polygon points="58.50,399.10 59.26,401.05 61.35,401.17 59.74,402.50 60.26,404.53 58.50,403.40 56.74,404.53 57.26,402.50 55.65,401.17 57.74,401.05" fill="#43408e"/>
<text x="70" y="405.10" font-size="8.3" fill="#222" stroke="#222" stroke-width="0.08">300 <tspan font-family='Liberation Serif' font-size='8.6'>μ</tspan>M</text>
<defs>
<linearGradient id="cb" x1="0" x2="1"><stop offset="0" stop-color="#3c52d8"/><stop offset="0.3" stop-color="#5c74fa"/><stop offset="0.7" stop-color="#5a70f6"/><stop offset="1" stop-color="#3448d0"/></linearGradient>
<linearGradient id="cg" x1="0" x2="1"><stop offset="0" stop-color="#6cb83a"/><stop offset="0.3" stop-color="#90da52"/><stop offset="0.7" stop-color="#8cd650"/><stop offset="1" stop-color="#64b034"/></linearGradient>
<linearGradient id="cr" x1="0" x2="1"><stop offset="0" stop-color="#c8506a"/><stop offset="0.3" stop-color="#ea7088"/><stop offset="0.7" stop-color="#e66c84"/><stop offset="1" stop-color="#c04862"/></linearGradient>
</defs>
<text x="265.5" y="370" font-weight="bold" font-size="12.5" fill="#111">e)</text>
<path d="M321,499.4 V377.1 H504.3 V499.5 M321,499.4 H504.3 M302.6,393.8 L321,377.1 M302.6,516.6 L321,499.4 M486,516.6 L504.3,499.5" stroke="#c8c8c8" stroke-width="0.9" fill="none"/>
<path d="M302.6,393.8 V516.6 H486" stroke="#555" stroke-width="1.1" fill="none"/>
<line x1="298" y1="511.5" x2="302.6" y2="511.5" stroke="#555" stroke-width="1"/>
<text transform="translate(296.8,515.0) scale(1.0,1.13)" text-anchor="end" font-size="9.0" fill="#222" stroke="#222" stroke-width="0.08">0</text>
<line x1="298" y1="491.5" x2="302.6" y2="491.5" stroke="#555" stroke-width="1"/>
<text transform="translate(296.8,495.0) scale(1.0,1.13)" text-anchor="end" font-size="9.0" fill="#222" stroke="#222" stroke-width="0.08">20</text>
<line x1="298" y1="471.5" x2="302.6" y2="471.5" stroke="#555" stroke-width="1"/>
<text transform="translate(296.8,475.0) scale(1.0,1.13)" text-anchor="end" font-size="9.0" fill="#222" stroke="#222" stroke-width="0.08">40</text>
<line x1="298" y1="451.5" x2="302.6" y2="451.5" stroke="#555" stroke-width="1"/>
<text transform="translate(296.8,455.0) scale(1.0,1.13)" text-anchor="end" font-size="9.0" fill="#222" stroke="#222" stroke-width="0.08">60</text>
<line x1="298" y1="431.5" x2="302.6" y2="431.5" stroke="#555" stroke-width="1"/>
<text transform="translate(296.8,435.0) scale(1.0,1.13)" text-anchor="end" font-size="9.0" fill="#222" stroke="#222" stroke-width="0.08">80</text>
<line x1="298" y1="411.5" x2="302.6" y2="411.5" stroke="#555" stroke-width="1"/>
<text transform="translate(296.8,415.0) scale(1.0,1.13)" text-anchor="end" font-size="9.0" fill="#222" stroke="#222" stroke-width="0.08">100</text>
<text transform="translate(277.9,456.2) rotate(-90) scale(1,1.08)" text-anchor="middle" font-size="9.75" fill="#222" stroke="#222" stroke-width="0.08">Residual content (%)</text>
<line x1="343.3" y1="516.6" x2="343.3" y2="520.5" stroke="#555" stroke-width="1"/>
<text transform="translate(346.8,529.3) rotate(-29) scale(1,1.08)" text-anchor="end" font-size="9.6" fill="#222" stroke="#222" stroke-width="0.08">0 equiv.</text>
<line x1="384.2" y1="516.6" x2="384.2" y2="520.5" stroke="#555" stroke-width="1"/>
<text transform="translate(387.7,529.3) rotate(-29) scale(1,1.08)" text-anchor="end" font-size="9.6" fill="#222" stroke="#222" stroke-width="0.08">0.2 equiv.</text>
<line x1="424.7" y1="516.6" x2="424.7" y2="520.5" stroke="#555" stroke-width="1"/>
<text transform="translate(428.2,529.3) rotate(-29) scale(1,1.08)" text-anchor="end" font-size="9.6" fill="#222" stroke="#222" stroke-width="0.08">0.5 equiv.</text>
<line x1="466" y1="516.6" x2="466" y2="520.5" stroke="#555" stroke-width="1"/>
<text transform="translate(469.5,529.3) rotate(-29) scale(1,1.08)" text-anchor="end" font-size="9.6" fill="#222" stroke="#222" stroke-width="0.08">1.0 equiv.</text>
<path d="M325.10,422.70 V514.00 A5.30,1.6 0 0 0 335.70,514.00 V422.70 Z" fill="url(#cb)"/><ellipse cx="330.40" cy="422.70" rx="5.00" ry="1.6" fill="url(#cb)" stroke="#2a3aa8" stroke-width="0.7"/>
<path d="M335.70,419.50 V514.00 A5.30,1.6 0 0 0 346.30,514.00 V419.50 Z" fill="url(#cg)"/><ellipse cx="341.00" cy="419.50" rx="5.00" ry="1.6" fill="url(#cg)" stroke="#4a8a22" stroke-width="0.7"/>
<path d="M346.30,418.00 V514.00 A5.70,1.6 0 0 0 357.70,514.00 V418.00 Z" fill="url(#cr)"/><ellipse cx="352.00" cy="418.00" rx="5.40" ry="1.6" fill="url(#cr)" stroke="#903040" stroke-width="0.7"/>
<path d="M366.00,499.80 V514.00 A5.30,1.6 0 0 0 376.60,514.00 V499.80 Z" fill="url(#cb)"/><ellipse cx="371.30" cy="499.80" rx="5.00" ry="1.6" fill="url(#cb)" stroke="#2a3aa8" stroke-width="0.7"/>
<path d="M371.30,499.30 V495.60 M369.30,495.60 h4" stroke="#444" stroke-width="0.9" fill="none"/>
<path d="M376.60,420.50 V514.00 A5.30,1.6 0 0 0 387.20,514.00 V420.50 Z" fill="url(#cg)"/><ellipse cx="381.90" cy="420.50" rx="5.00" ry="1.6" fill="url(#cg)" stroke="#4a8a22" stroke-width="0.7"/>
<path d="M387.20,418.50 V514.00 A5.70,1.6 0 0 0 398.60,514.00 V418.50 Z" fill="url(#cr)"/><ellipse cx="392.90" cy="418.50" rx="5.40" ry="1.6" fill="url(#cr)" stroke="#903040" stroke-width="0.7"/>
<path d="M406.30,510.00 V514.00 A5.30,1.6 0 0 0 416.90,514.00 V510.00 Z" fill="url(#cb)"/><ellipse cx="411.60" cy="510.00" rx="5.00" ry="1.6" fill="url(#cb)" stroke="#2a3aa8" stroke-width="0.7"/>
<path d="M411.60,509.50 V505.80 M409.60,505.80 h4" stroke="#444" stroke-width="0.9" fill="none"/>
<path d="M416.90,497.70 V514.00 A5.30,1.6 0 0 0 427.50,514.00 V497.70 Z" fill="url(#cg)"/><ellipse cx="422.20" cy="497.70" rx="5.00" ry="1.6" fill="url(#cg)" stroke="#4a8a22" stroke-width="0.7"/>
<path d="M422.20,497.20 V494.20 M420.20,494.20 h4" stroke="#444" stroke-width="0.9" fill="none"/>
<path d="M427.50,419.50 V514.00 A5.70,1.6 0 0 0 438.90,514.00 V419.50 Z" fill="url(#cr)"/><ellipse cx="433.20" cy="419.50" rx="5.40" ry="1.6" fill="url(#cr)" stroke="#903040" stroke-width="0.7"/>
<path d="M447.20,511.40 V514.00 A5.30,1.6 0 0 0 457.80,514.00 V511.40 Z" fill="url(#cb)"/><ellipse cx="452.50" cy="511.40" rx="5.00" ry="1.6" fill="url(#cb)" stroke="#2a3aa8" stroke-width="0.7"/>
<path d="M452.50,510.90 V509.90 M450.50,509.90 h4" stroke="#444" stroke-width="0.9" fill="none"/>
<path d="M457.80,507.90 V514.00 A5.30,1.6 0 0 0 468.40,514.00 V507.90 Z" fill="url(#cg)"/><ellipse cx="463.10" cy="507.90" rx="5.00" ry="1.6" fill="url(#cg)" stroke="#4a8a22" stroke-width="0.7"/>
<path d="M463.10,507.40 V505.00 M461.10,505.00 h4" stroke="#444" stroke-width="0.9" fill="none"/>
<path d="M468.40,482.00 V514.00 A5.70,1.6 0 0 0 479.80,514.00 V482.00 Z" fill="url(#cr)"/><ellipse cx="474.10" cy="482.00" rx="5.40" ry="1.6" fill="url(#cr)" stroke="#903040" stroke-width="0.7"/>
<path d="M474.10,481.50 V479.40 M472.10,479.40 h4" stroke="#444" stroke-width="0.9" fill="none"/>
<rect x="437.7" y="379.5" width="64" height="31.8" fill="#fff" stroke="#999" stroke-width="0.7"/>
<rect x="439" y="381.5" width="17.5" height="8.2" fill="#5a70f6"/>
<text x="459.5" y="388.7" font-size="8.2" fill="#222" stroke="#222" stroke-width="0.08">5-dFu</text>
<rect x="439" y="391.6" width="17.5" height="8.2" fill="#8cd650"/>
<text x="459.5" y="398.8" font-size="8.2" fill="#222" stroke="#222" stroke-width="0.08">FITC-gal</text>
<rect x="439" y="401.7" width="17.5" height="8.2" fill="#e66c84"/>
<text x="459.5" y="408.9" font-size="8.2" fill="#222" stroke="#222" stroke-width="0.08">TR-dextran</text>
<defs>
<radialGradient id="sp0"><stop offset="0" stop-color="#3828d8"/><stop offset="0.35" stop-color="#2c20b8" stop-opacity="0.6"/><stop offset="0.7" stop-color="#2418a0" stop-opacity="0.25"/><stop offset="1" stop-color="#2418a0" stop-opacity="0"/></radialGradient>
<radialGradient id="sp1"><stop offset="0" stop-color="#34c834"/><stop offset="0.3" stop-color="#24a824" stop-opacity="0.75"/><stop offset="0.65" stop-color="#1a8a1a" stop-opacity="0.3"/><stop offset="1" stop-color="#107010" stop-opacity="0"/></radialGradient>
<radialGradient id="sp2"><stop offset="0" stop-color="#c81828"/><stop offset="0.3" stop-color="#a81024" stop-opacity="0.75"/><stop offset="0.65" stop-color="#901020" stop-opacity="0.3"/><stop offset="1" stop-color="#701018" stop-opacity="0"/></radialGradient>
<clipPath id="cp"><rect x="0" y="0" width="81" height="80.7"/></clipPath>
</defs>
<g transform="translate(538.1,186.3)"><g clip-path="url(#cp)">
<rect x="0" y="0" width="81" height="80.7" fill="#100a3c"/>
<ellipse transform="translate(11.8,37.5) rotate(0)" rx="7.2" ry="7.2" fill="url(#sp0)" opacity="0.56"/>
<ellipse transform="translate(22.2,36.0) rotate(0)" rx="5.8" ry="5.8" fill="url(#sp0)" opacity="0.44"/>
<ellipse transform="translate(50.3,33.8) rotate(0)" rx="7.2" ry="7.2" fill="url(#sp0)" opacity="0.56"/>
<ellipse transform="translate(54.8,28.6) rotate(0)" rx="5.8" ry="5.8" fill="url(#sp0)" opacity="0.44"/>
<ellipse transform="translate(16.2,50.1) rotate(0)" rx="6.5" ry="6.5" fill="url(#sp0)" opacity="0.44"/>
<ellipse transform="translate(23.6,52.4) rotate(0)" rx="5.8" ry="5.8" fill="url(#sp0)" opacity="0.40"/>
<ellipse transform="translate(45.9,62.0) rotate(0)" rx="5.8" ry="5.8" fill="url(#sp0)" opacity="0.44"/>
<ellipse transform="translate(59.2,59.0) rotate(0)" rx="5.1" ry="5.1" fill="url(#sp0)" opacity="0.28"/>
<ellipse transform="translate(32.5,2.7) rotate(0)" rx="5.8" ry="5.8" fill="url(#sp0)" opacity="0.44"/>
<ellipse transform="translate(68.1,20.5) rotate(0)" rx="5.1" ry="5.1" fill="url(#sp0)" opacity="0.28"/>
<ellipse transform="translate(5.9,65.0) rotate(0)" rx="4.3" ry="4.3" fill="url(#sp0)" opacity="0.24"/>
<ellipse transform="translate(36.9,18.7) rotate(0)" rx="5.8" ry="5.8" fill="url(#sp0)" opacity="0.24"/>
<ellipse transform="translate(61.9,45.7) rotate(0)" rx="5.8" ry="5.8" fill="url(#sp0)" opacity="0.24"/>
</g></g>
<g transform="translate(622.9,186.3)"><g clip-path="url(#cp)">
<rect x="0" y="0" width="81" height="80.7" fill="#030803"/>
<ellipse transform="translate(38.4,5.7) rotate(0)" rx="5.5" ry="5.5" fill="url(#sp1)" opacity="0.77"/>
<ellipse transform="translate(33.1,10.7) rotate(0)" rx="4.9" ry="4.9" fill="url(#sp1)" opacity="0.68"/>
<ellipse transform="translate(55.5,2.7) rotate(0)" rx="4.6" ry="4.6" fill="url(#sp1)" opacity="0.59"/>
<ellipse transform="translate(64.4,11.6) rotate(0)" rx="4.6" ry="4.6" fill="url(#sp1)" opacity="0.51"/>
<ellipse transform="translate(75.5,14.5) rotate(0)" rx="4.6" ry="4.6" fill="url(#sp1)" opacity="0.51"/>
<ellipse transform="translate(25.8,20.5) rotate(0)" rx="4.6" ry="4.6" fill="url(#sp1)" opacity="0.51"/>
<ellipse transform="translate(19.1,15.3) rotate(0)" rx="3.5" ry="3.5" fill="url(#sp1)" opacity="0.30"/>
<ellipse transform="translate(66.6,20.5) rotate(0)" rx="4.6" ry="4.6" fill="url(#sp1)" opacity="0.51"/>
<ellipse transform="translate(51.0,33.1) rotate(0)" rx="5.1" ry="5.1" fill="url(#sp1)" opacity="0.47"/>
<ellipse transform="translate(2.1,41.2) rotate(0)" rx="5.5" ry="5.5" fill="url(#sp1)" opacity="0.72"/>
<ellipse transform="translate(2.1,47.2) rotate(0)" rx="4.1" ry="4.1" fill="url(#sp1)" opacity="0.42"/>
<ellipse transform="translate(11.7,42.0) rotate(0)" rx="4.9" ry="4.9" fill="url(#sp1)" opacity="0.59"/>
<ellipse transform="translate(77.0,39.0) rotate(0)" rx="5.2" ry="5.2" fill="url(#sp1)" opacity="0.59"/>
<ellipse transform="translate(76.3,50.1) rotate(0)" rx="5.5" ry="5.5" fill="url(#sp1)" opacity="0.72"/>
<ellipse transform="translate(50.3,51.6) rotate(0)" rx="4.1" ry="4.1" fill="url(#sp1)" opacity="0.38"/>
<ellipse transform="translate(31.0,57.6) rotate(0)" rx="6.4" ry="6.4" fill="url(#sp1)" opacity="0.72"/>
<ellipse transform="translate(55.5,68.7) rotate(0)" rx="6.4" ry="6.4" fill="url(#sp1)" opacity="0.81"/>
<ellipse transform="translate(29.5,71.7) rotate(0)" rx="3.2" ry="3.2" fill="url(#sp1)" opacity="0.26"/>
<ellipse transform="translate(43.6,74.7) rotate(0)" rx="3.2" ry="3.2" fill="url(#sp1)" opacity="0.26"/>
<ellipse transform="translate(35.5,17.5) rotate(0)" rx="3.2" ry="3.2" fill="url(#sp1)" opacity="0.26"/>
<ellipse transform="translate(17.1,27.7) rotate(0)" rx="3.2" ry="3.2" fill="url(#sp1)" opacity="0.21"/>
</g></g>
<g transform="translate(707.7,186.3)"><g clip-path="url(#cp)">
<rect x="0" y="0" width="81" height="80.7" fill="#220610"/>
<ellipse transform="translate(6.0,14.5) rotate(0)" rx="7.2" ry="7.2" fill="url(#sp2)" opacity="0.81"/>
<ellipse transform="translate(23.0,26.4) rotate(0)" rx="6.5" ry="6.5" fill="url(#sp2)" opacity="0.77"/>
<ellipse transform="translate(22.3,19.7) rotate(0)" rx="4.3" ry="4.3" fill="url(#sp2)" opacity="0.51"/>
<ellipse transform="translate(61.6,26.4) rotate(0)" rx="6.5" ry="6.5" fill="url(#sp2)" opacity="0.77"/>
<ellipse transform="translate(63.8,13.8) rotate(0)" rx="5.1" ry="5.1" fill="url(#sp2)" opacity="0.59"/>
<ellipse transform="translate(60.9,6.4) rotate(0)" rx="3.6" ry="3.6" fill="url(#sp2)" opacity="0.42"/>
<ellipse transform="translate(13.4,36.8) rotate(0)" rx="4.3" ry="4.3" fill="url(#sp2)" opacity="0.42"/>
<ellipse transform="translate(23.0,40.5) rotate(0)" rx="4.3" ry="4.3" fill="url(#sp2)" opacity="0.47"/>
<ellipse transform="translate(26.7,38.3) rotate(0)" rx="3.6" ry="3.6" fill="url(#sp2)" opacity="0.42"/>
<ellipse transform="translate(64.6,55.3) rotate(0)" rx="5.1" ry="5.1" fill="url(#sp2)" opacity="0.51"/>
<ellipse transform="translate(55.7,63.5) rotate(0)" rx="5.8" ry="5.8" fill="url(#sp2)" opacity="0.55"/>
<ellipse transform="translate(69.8,62.0) rotate(0)" rx="4.3" ry="4.3" fill="url(#sp2)" opacity="0.42"/>
<ellipse transform="translate(20.1,73.9) rotate(0)" rx="5.8" ry="5.8" fill="url(#sp2)" opacity="0.59"/>
<ellipse transform="translate(75.0,75.4) rotate(0)" rx="4.3" ry="4.3" fill="url(#sp2)" opacity="0.47"/>
<ellipse transform="translate(17.1,63.5) rotate(0)" rx="3.6" ry="3.6" fill="url(#sp2)" opacity="0.26"/>
<ellipse transform="translate(75.0,17.5) rotate(0)" rx="3.6" ry="3.6" fill="url(#sp2)" opacity="0.26"/>
<ellipse transform="translate(49.7,26.4) rotate(0)" rx="3.6" ry="3.6" fill="url(#sp2)" opacity="0.21"/>
<ellipse transform="translate(42.3,76.7) rotate(0)" rx="3.6" ry="3.6" fill="url(#sp2)" opacity="0.26"/>
<ellipse transform="translate(3.8,56.1) rotate(0)" rx="3.6" ry="3.6" fill="url(#sp2)" opacity="0.26"/>
</g></g>
<g transform="translate(538.1,272.2)"><g clip-path="url(#cp)">
<rect x="0" y="0" width="81" height="80.7" fill="#08082a"/>
<ellipse transform="translate(53.9,68.4) rotate(0)" rx="4.3" ry="4.3" fill="url(#sp0)" opacity="0.36"/>
<ellipse transform="translate(16.4,18.0) rotate(0)" rx="3.6" ry="3.6" fill="url(#sp0)" opacity="0.28"/>
<ellipse transform="translate(35.9,44.0) rotate(0)" rx="3.6" ry="3.6" fill="url(#sp0)" opacity="0.28"/>
<ellipse transform="translate(53.9,29.3) rotate(0)" rx="3.6" ry="3.6" fill="url(#sp0)" opacity="0.28"/>
</g></g>
<g transform="translate(622.9,272.2)"><g clip-path="url(#cp)">
<rect x="0" y="0" width="81" height="80.7" fill="#030703"/>
<ellipse transform="translate(38.4,16.1) rotate(-50)" rx="7.0" ry="3.8" fill="url(#sp1)" opacity="0.68"/>
<ellipse transform="translate(16.2,25.0) rotate(0)" rx="4.1" ry="5.2" fill="url(#sp1)" opacity="0.64"/>
<ellipse transform="translate(30.3,28.0) rotate(0)" rx="3.5" ry="4.6" fill="url(#sp1)" opacity="0.59"/>
<ellipse transform="translate(61.4,13.9) rotate(0)" rx="4.1" ry="4.1" fill="url(#sp1)" opacity="0.42"/>
<ellipse transform="translate(64.4,18.3) rotate(0)" rx="4.3" ry="4.3" fill="url(#sp1)" opacity="0.59"/>
<ellipse transform="translate(76.3,7.2) rotate(0)" rx="5.8" ry="5.8" fill="url(#sp1)" opacity="0.38"/>
<ellipse transform="translate(22.8,45.8) rotate(-25)" rx="8.1" ry="3.8" fill="url(#sp1)" opacity="0.68"/>
<ellipse transform="translate(44.4,39.8) rotate(0)" rx="3.5" ry="3.5" fill="url(#sp1)" opacity="0.30"/>
<ellipse transform="translate(59.2,45.8) rotate(0)" rx="4.9" ry="4.9" fill="url(#sp1)" opacity="0.68"/>
<ellipse transform="translate(68.8,43.6) rotate(-15)" rx="6.7" ry="4.3" fill="url(#sp1)" opacity="0.68"/>
<ellipse transform="translate(42.9,54.0) rotate(0)" rx="4.3" ry="4.3" fill="url(#sp1)" opacity="0.59"/>
<ellipse transform="translate(41.4,61.4) rotate(0)" rx="4.9" ry="4.9" fill="url(#sp1)" opacity="0.64"/>
<ellipse transform="translate(8.7,60.6) rotate(0)" rx="5.5" ry="5.5" fill="url(#sp1)" opacity="0.59"/>
<ellipse transform="translate(4.3,68.8) rotate(0)" rx="5.8" ry="5.8" fill="url(#sp1)" opacity="0.38"/>
<ellipse transform="translate(77.7,70.3) rotate(0)" rx="4.3" ry="4.3" fill="url(#sp1)" opacity="0.30"/>
<ellipse transform="translate(8.0,2.8) rotate(0)" rx="4.3" ry="4.3" fill="url(#sp1)" opacity="0.26"/>
</g></g>
<g transform="translate(707.7,272.2)"><g clip-path="url(#cp)">
<rect x="0" y="0" width="81" height="80.7" fill="#1c0509"/>
<ellipse transform="translate(9.7,10.2) rotate(0)" rx="6.4" ry="4.3" fill="url(#sp2)" opacity="0.68"/>
<ellipse transform="translate(77.2,8.0) rotate(0)" rx="5.8" ry="5.8" fill="url(#sp2)" opacity="0.59"/>
<ellipse transform="translate(46.0,19.1) rotate(0)" rx="4.1" ry="5.5" fill="url(#sp2)" opacity="0.59"/>
<ellipse transform="translate(64.6,23.5) rotate(0)" rx="2.9" ry="2.9" fill="url(#sp2)" opacity="0.34"/>
<ellipse transform="translate(22.3,29.5) rotate(0)" rx="5.5" ry="5.5" fill="url(#sp2)" opacity="0.64"/>
<ellipse transform="translate(28.2,32.4) rotate(0)" rx="4.6" ry="4.6" fill="url(#sp2)" opacity="0.59"/>
<ellipse transform="translate(4.5,37.6) rotate(0)" rx="4.3" ry="5.8" fill="url(#sp2)" opacity="0.64"/>
<ellipse transform="translate(55.7,42.8) rotate(-60)" rx="6.5" ry="4.3" fill="url(#sp2)" opacity="0.68"/>
<ellipse transform="translate(17.1,52.5) rotate(0)" rx="4.3" ry="4.3" fill="url(#sp2)" opacity="0.51"/>
<ellipse transform="translate(64.6,59.1) rotate(0)" rx="4.3" ry="6.1" fill="url(#sp2)" opacity="0.59"/>
<ellipse transform="translate(37.1,68.8) rotate(30)" rx="6.5" ry="4.3" fill="url(#sp2)" opacity="0.64"/>
<ellipse transform="translate(17.1,72.5) rotate(0)" rx="3.6" ry="3.6" fill="url(#sp2)" opacity="0.30"/>
</g></g>
<g transform="translate(538.1,358.5)"><g clip-path="url(#cp)">
<rect x="0" y="0" width="81" height="80.7" fill="#06061a"/>
<ellipse transform="translate(59.9,71.5) rotate(0)" rx="4.3" ry="4.3" fill="url(#sp0)" opacity="0.16"/>
<ellipse transform="translate(21.9,21.5) rotate(0)" rx="4.3" ry="4.3" fill="url(#sp0)" opacity="0.10"/>
</g></g>
<g transform="translate(622.9,358.5)"><g clip-path="url(#cp)">
<rect x="0" y="0" width="81" height="80.7" fill="#050b05"/>
<ellipse transform="translate(37.1,18.5) rotate(0)" rx="7.2" ry="7.2" fill="url(#sp1)" opacity="0.12"/>
<ellipse transform="translate(22.1,41.5) rotate(0)" rx="7.2" ry="7.2" fill="url(#sp1)" opacity="0.10"/>
<ellipse transform="translate(57.1,41.5) rotate(0)" rx="5.8" ry="5.8" fill="url(#sp1)" opacity="0.10"/>
<ellipse transform="translate(77.1,54.5) rotate(0)" rx="5.8" ry="5.8" fill="url(#sp1)" opacity="0.12"/>
<ellipse transform="translate(27.1,66.5) rotate(0)" rx="5.8" ry="5.8" fill="url(#sp1)" opacity="0.10"/>
<ellipse transform="translate(47.1,61.5) rotate(0)" rx="5.8" ry="5.8" fill="url(#sp1)" opacity="0.10"/>
</g></g>
<g transform="translate(707.7,358.5)"><g clip-path="url(#cp)">
<rect x="0" y="0" width="81" height="80.7" fill="#150405"/>
<path d="M24.5,8.7 L23.3,6.8 L21.6,4.7 L20.3,3.1M16.9,45.0 L18.4,45.8 L20.7,47.2 L21.9,49.1 L23.4,49.6 L25.2,51.5 L26.3,52.7 L27.5,54.2M69.3,11.4 L67.7,11.0 L66.4,10.2 L64.7,9.0 L63.8,7.3M48.3,36.1 L47.7,38.3 L47.7,40.5 L47.0,42.2 L46.9,45.0M5.7,32.9 L6.6,30.3 L7.0,28.8 L6.2,26.3 L5.3,24.6M26.9,40.0 L28.2,38.4 L28.4,36.0 L29.5,34.0M85.4,69.5 L84.4,72.0 L84.4,74.0 L83.2,75.9 L82.5,77.7 L81.6,80.0 L82.0,82.1M10.1,31.4 L8.7,33.6 L7.4,35.1 L6.3,36.8 L4.8,37.5M11.0,16.0 L12.5,18.2 L13.3,19.6 L13.9,21.7 L14.7,23.2 L16.3,25.3 L16.9,27.7M36.6,74.0 L38.4,73.1 L40.4,71.9 L41.8,71.2 L43.4,70.7 L45.3,70.4 L47.0,70.1 L48.6,69.7M28.1,-2.7 L29.3,-5.1 L30.9,-6.8 L32.2,-8.5 L33.9,-10.7 L34.5,-12.2 L35.6,-14.5 L36.5,-16.7M42.0,13.6 L43.3,12.6 L45.0,11.2 L47.1,9.3 L48.7,8.6 L50.1,7.2M10.2,65.0 L7.7,64.8 L5.0,64.0 L2.9,62.5 L0.5,62.0 L-1.4,61.6 L-2.7,60.7 L-3.9,59.4M58.0,81.8 L55.4,82.5 L53.8,83.3 L52.1,83.8 L49.4,84.2 L46.9,83.5M38.6,54.2 L39.4,52.4 L40.0,50.0 L40.9,48.2M52.9,2.9 L54.9,3.4 L56.5,3.8 L59.3,4.2 L61.1,5.2 L63.1,6.6 L65.1,7.1M80.3,9.1 L78.8,9.1 L76.8,8.1 L74.3,7.1M34.5,74.1 L35.8,72.4 L37.5,70.5 L38.8,68.3 L40.0,67.3M62.3,76.4 L60.4,75.5 L58.8,74.0 L57.2,72.7 L55.8,71.6 L55.3,70.0 L54.6,68.0 L53.8,66.2M42.2,45.4 L41.7,42.8 L41.8,41.2 L41.9,39.6M36.1,-2.5 L37.2,-4.3 L38.5,-6.1 L39.7,-7.9M38.5,80.4 L36.9,78.2 L36.0,76.4 L34.8,74.7 L33.1,73.0 L31.9,71.4M14.4,22.5 L15.1,24.3 L16.1,25.8 L16.9,28.2 L17.1,29.8M75.5,9.8 L74.8,7.7 L74.6,5.8 L74.7,3.4 L75.1,1.9M45.4,34.9 L48.1,34.6 L49.8,34.3 L52.4,34.4 L54.0,34.2 L55.7,34.0M63.8,69.4 L65.7,68.8 L67.4,67.5 L68.9,66.2 L70.0,64.9 L72.6,64.1M19.5,-3.5 L20.2,-2.1 L20.8,0.5 L21.8,2.5 L22.8,5.0 L23.7,7.0M16.7,4.9 L17.4,6.5 L17.4,8.7 L17.7,10.5M35.6,56.0 L35.2,57.5 L34.8,59.6 L33.8,61.1M35.7,54.7 L34.3,53.0 L34.2,51.1 L33.2,49.6 L31.8,47.4 L30.9,45.1 L31.6,42.4M71.2,-3.7 L71.0,-5.8 L71.6,-7.6 L72.6,-9.6 L74.5,-11.1 L75.6,-12.2M11.9,19.4 L13.4,21.0 L14.9,22.0 L16.2,23.5 L17.2,24.6 L19.0,25.8M13.3,40.8 L15.8,41.4 L17.5,42.4 L18.8,43.8 L20.8,45.6 L22.9,47.2M9.1,76.0 L9.2,73.2 L9.5,71.5 L9.6,70.0 L8.8,67.5 L8.9,65.1 L8.2,62.6 L8.2,60.4M71.0,68.0 L72.7,66.1 L74.0,64.2 L73.8,62.6 L74.5,59.9 L75.2,58.1 L75.6,56.6 L76.3,54.5M17.3,18.9 L15.1,19.5 L13.2,20.9 L11.4,21.2M1.8,19.1 L1.9,17.3 L1.6,14.7 L0.9,13.2 L0.7,11.7M52.6,13.0 L51.0,12.1 L49.0,11.1 L47.5,10.7 L45.4,9.7 L43.3,8.5M56.5,21.4 L53.9,22.5 L51.8,23.1 L49.8,23.8 L48.0,24.2 L45.2,23.9 L42.5,23.2M30.2,78.1 L32.0,76.9 L34.2,75.3 L36.3,74.6M75.7,58.8 L75.1,60.7 L73.6,62.6 L71.6,63.1 L69.7,63.7 L68.4,64.6 L67.0,66.0M31.2,80.2 L31.5,82.9 L31.9,84.9 L31.6,87.7M48.6,27.7 L47.1,28.2 L45.0,29.3 L42.8,30.9 L41.2,32.3 L39.8,34.3M33.9,-2.4 L35.3,-4.7 L37.2,-6.2 L38.3,-7.3 L40.0,-9.2 L40.9,-11.3 L41.9,-13.8M6.6,37.8 L5.4,39.3 L4.2,40.9 L3.8,42.6 L4.2,44.2 L4.6,46.5M1.8,40.4 L3.2,38.0 L5.1,37.1 L6.7,36.6 L8.6,36.4 L10.4,36.5 L12.6,36.8 L14.4,37.9M32.7,42.5 L31.5,44.7 L31.4,46.7 L31.2,49.1 L32.3,51.5 L33.1,52.8M76.6,29.9 L76.4,27.3 L76.0,25.8 L76.5,23.2 L77.1,21.1 L77.7,19.2 L78.4,16.6M70.1,72.6 L71.8,72.4 L74.4,71.5 L76.8,71.7 L79.2,72.8M76.4,2.7 L77.0,0.1 L77.0,-2.3 L76.9,-4.1M52.9,58.4 L54.1,59.8 L55.1,61.4 L56.5,63.4M-4.9,43.7 L-2.4,44.8 L-0.4,45.4 L2.2,46.2 L4.3,47.4 L6.2,48.5M56.4,33.1 L56.1,35.8 L55.9,37.7 L55.5,39.7 L55.2,42.2 L55.4,44.7 L56.1,47.4M23.4,69.4 L23.6,71.2 L23.6,73.5 L23.9,75.8 L23.4,78.4M0.1,48.9 L1.5,47.8 L2.8,47.0 L4.2,46.2M30.8,76.5 L32.7,76.4 L34.5,76.3 L35.9,76.9M55.5,29.3 L54.3,31.1 L53.3,32.3 L51.9,33.8 L49.8,35.1 L48.4,36.5M65.0,23.0 L66.2,21.4 L68.0,19.5 L70.1,17.8M-2.2,32.3 L-1.3,31.0 L0.6,29.1 L1.9,27.8 L3.2,26.4 L3.5,24.6 L4.4,23.0M60.2,23.7 L60.1,26.1 L61.1,28.7 L62.2,29.9M70.2,4.7 L70.3,2.9 L70.3,0.8 L69.1,-0.5 L67.5,-2.5 L65.9,-4.3 L63.7,-5.0M24.8,24.0 L22.9,25.6 L21.4,26.6 L19.5,27.7 L17.8,28.6 L15.0,28.3 L13.2,28.2 L11.1,27.8M59.6,35.5 L59.7,37.6 L59.3,39.8 L59.3,42.3 L59.3,44.2 L60.2,45.8 L61.1,47.4M35.0,11.8 L34.6,14.5 L34.8,16.5 L35.4,19.2 L36.5,21.5 L37.6,23.6M85.2,4.3 L83.7,4.0 L81.9,4.6 L79.2,5.2 L76.9,5.4M79.6,28.8 L80.4,26.5 L80.4,25.0 L79.8,23.1 L78.9,21.9 L77.0,19.8 L76.1,18.5M61.6,77.9 L62.0,75.6 L62.5,74.1 L63.8,72.4 L65.2,70.9 L66.5,69.8M43.6,54.2 L42.6,56.0 L41.4,58.5 L40.2,59.9 L39.3,61.8 L38.5,64.3M85.7,28.0 L86.5,30.5 L87.1,32.5 L87.6,35.1 L88.4,37.0 L89.3,39.0 L90.2,41.2M77.8,3.1 L76.4,1.7 L74.9,0.8 L73.3,-0.3 L71.4,-2.0 L70.2,-3.4M71.2,-1.1 L71.9,-2.4 L73.8,-4.4 L75.2,-6.2 L76.8,-8.1 L77.8,-9.7M31.8,71.8 L32.9,69.3 L33.5,67.7 L34.3,65.0 L35.3,62.7M12.5,75.2 L13.4,73.4 L13.9,71.3 L15.0,69.3M23.0,17.6 L22.1,19.5 L21.3,21.6 L20.4,23.6 L19.3,25.8 L17.5,27.0M11.3,37.9 L13.6,39.1 L15.2,40.5 L16.5,41.6 L18.8,43.1M23.5,60.3 L25.2,62.2 L26.5,63.1 L27.9,65.0 L28.6,66.5 L28.6,68.4 L27.5,70.7 L26.2,72.8M15.1,70.6 L13.5,70.1 L11.2,69.0 L9.6,68.5 L7.9,69.2 L6.2,69.9M41.0,23.9 L42.9,23.7 L44.8,24.0 L46.6,23.5 L49.1,23.8M-0.6,72.8 L1.6,71.4 L2.9,70.3 L4.8,69.7 L7.2,68.9 L9.3,68.1 L11.0,69.0M64.6,35.1 L65.6,36.7 L66.2,39.4 L65.5,42.0M61.7,62.8 L63.2,64.6 L65.4,66.0 L66.7,67.1 L67.8,68.1 L68.3,69.5M27.3,4.6 L26.6,6.1 L25.5,7.8 L24.5,9.0 L23.3,11.2M59.4,35.9 L60.8,37.3 L62.6,38.0 L64.1,39.6 L65.4,41.1M53.7,35.2 L55.2,34.7 L57.3,35.2 L58.9,35.3 L61.3,35.8 L63.6,37.3 L65.0,38.3M13.2,50.2 L11.3,49.9 L9.4,50.0 L7.2,48.7 L5.4,47.1 L4.8,44.7 L4.3,42.7M62.5,36.0 L62.8,37.7 L62.1,40.3 L60.7,41.4M-0.2,52.7 L-2.1,50.7 L-4.3,49.2 L-4.8,47.6 L-6.1,45.3 L-7.3,43.0 L-8.4,40.6 L-8.9,38.9M30.4,49.5 L29.8,51.9 L28.9,54.3 L29.0,56.5 L28.9,58.4 L28.5,60.0 L27.0,62.2 L26.0,63.5M79.5,26.3 L80.4,27.5 L81.0,29.0 L81.0,30.6M-0.8,72.7 L0.0,70.1 L-0.3,68.6 L0.4,65.9 L-0.0,64.4M13.7,5.2 L15.4,5.9 L17.1,6.0 L18.7,6.7M24.0,33.4 L26.5,34.5 L28.2,36.7 L29.4,38.8 L30.7,40.2 L32.8,41.5M66.8,-2.2 L64.6,-1.8 L62.9,-2.2 L60.5,-3.1M10.5,-4.9 L11.1,-3.5 L12.8,-1.6 L14.0,-0.3M40.0,26.5 L40.9,24.1 L41.6,21.5 L42.4,18.9 L43.6,16.7 L42.6,14.6M4.5,24.6 L6.6,26.2 L8.5,27.7 L10.4,28.3 L12.5,28.8 L14.0,29.7 L15.6,31.9M6.5,48.9 L5.6,46.8 L4.6,45.3 L3.7,42.9 L2.7,41.5 L0.9,40.5 L-0.5,39.6 L-2.5,39.2M75.5,16.6 L76.3,18.7 L78.3,20.2 L79.2,22.3 L80.2,24.0 L81.0,25.7M81.9,85.2 L81.5,87.0 L81.0,88.8 L80.1,90.5M19.9,4.9 L21.3,4.2 L23.3,3.8 L25.4,3.7 L27.4,2.5 L29.2,1.1M31.8,62.2 L33.9,61.0 L35.5,58.9 L36.5,56.8 L36.7,54.4 L35.8,52.4 L35.1,50.8M34.4,18.6 L34.1,16.8 L33.3,15.3 L32.7,12.7 L32.0,10.2 L31.4,8.1 L29.9,5.9M24.9,-4.0 L24.8,-5.6 L24.4,-8.1 L23.8,-10.7M42.2,4.2 L41.0,3.4 L39.4,1.4 L37.5,-0.2 L36.2,-1.8 L35.2,-3.8 L33.9,-6.2 L32.7,-8.2M18.0,29.6 L20.0,29.6 L21.8,28.8 L23.6,28.4M15.4,62.3 L17.7,63.7 L19.7,64.6 L20.8,65.6 L21.4,68.1 L21.6,70.5 L20.8,73.0 L19.3,75.1M67.4,32.5 L69.6,33.2 L71.9,34.2 L73.7,34.3 L76.5,34.1 L78.6,33.0 L79.8,30.8 L80.9,29.1M54.6,24.1 L52.7,24.8 L50.7,26.6 L48.6,28.1 L46.6,29.9 L44.7,31.6 L43.2,33.3 L41.3,35.3M54.7,17.7 L56.8,19.2 L58.6,21.0 L59.4,22.6 L61.1,24.2M57.6,83.6 L59.4,85.4 L60.9,87.3 L62.6,88.7 L64.6,90.4 L66.7,91.2 L68.2,91.8 L70.0,93.0M0.3,37.4 L1.7,39.2 L2.8,41.3 L3.6,43.6 L3.9,45.7 L4.3,47.8 L4.0,50.5M56.5,11.4 L54.8,13.1 L52.8,15.1 L51.2,16.5M63.9,8.1 L64.7,10.3 L65.9,11.8 L66.3,13.9 L67.4,15.3 L68.8,16.8 L71.1,18.0M21.7,70.1 L19.1,71.2 L17.4,71.6 L15.5,72.5 L13.1,73.2 L11.5,73.5 L8.7,73.5 L6.7,73.6M45.4,31.8 L43.9,31.1 L41.5,29.8 L39.0,29.4 L36.3,29.8 L34.2,30.8 L32.4,32.4M49.3,56.8 L50.1,59.0 L51.4,61.3 L52.9,63.5 L53.7,64.8 L54.5,66.5 L55.8,68.6M73.5,11.8 L76.2,11.3 L77.7,11.3 L79.4,11.2M68.7,47.2 L70.1,46.4 L72.2,44.5 L73.3,42.4 L74.9,40.9 L76.4,40.3 L77.6,38.3M33.9,-4.2 L33.2,-5.8 L32.9,-7.6 L33.1,-9.9M36.0,62.5 L38.4,61.4 L40.0,59.6 L42.1,58.4 L44.1,57.7 L46.8,57.5M60.3,-4.0 L61.9,-4.0 L63.6,-4.3 L66.1,-3.6 L68.0,-3.3 L70.3,-2.9 L71.9,-3.3 L74.4,-3.5M28.1,53.5 L26.1,52.9 L24.3,52.2 L22.6,51.5 L20.3,51.2 L18.1,51.7 L16.0,53.3M61.0,-3.6 L62.8,-3.2 L64.8,-3.5 L66.3,-4.4 L68.4,-4.8 L70.2,-5.3M9.3,78.5 L9.0,76.6 L9.7,73.9 L10.8,72.7M83.8,67.3 L81.6,66.8 L79.2,66.0 L76.8,64.7 L75.8,63.2 L74.0,62.0 L72.4,61.5M18.2,63.1 L18.0,61.2 L17.7,59.6 L16.8,58.0 L16.2,55.5 L15.4,53.9 L15.3,52.1M3.4,68.1 L3.5,70.3 L3.7,71.9 L2.2,73.3 L0.8,74.0 L-0.4,75.2 L-1.3,77.3 L-1.5,78.8M-1.9,84.8 L-0.0,83.7 L1.7,83.0 L3.3,83.4 L5.6,83.2 L7.2,83.2 L10.0,83.7M29.4,-2.5 L32.0,-2.5 L34.1,-4.3 L35.5,-5.1 L36.6,-6.2 L38.3,-8.4M18.4,46.2 L17.0,45.2 L15.2,43.2 L14.4,41.8 L13.4,40.2 L11.3,38.6 L10.3,36.3 L10.5,33.9M53.8,84.4 L55.5,85.3 L57.4,86.9 L59.1,88.4 L61.1,89.0M28.8,30.4 L27.4,31.4 L25.5,32.8 L24.1,33.4 L22.8,34.2 L20.7,35.9 L18.4,37.2M75.9,7.7 L73.3,6.7 L71.8,6.2 L69.2,5.3M24.4,16.2 L25.4,17.4 L26.6,19.5 L28.3,21.5 L29.6,22.8 L31.1,24.0M71.4,25.3 L72.1,26.8 L73.2,28.1 L74.6,29.8 L76.9,31.2 L79.1,31.6 L81.5,32.1M83.3,34.2 L83.5,36.9 L83.1,39.5 L82.7,41.0 L82.0,43.7M-3.5,68.2 L-4.2,70.2 L-5.1,71.8 L-4.7,73.7 L-4.9,75.6M11.4,71.5 L9.1,71.0 L7.5,70.6 L5.4,69.7 L3.6,69.5M50.7,59.2 L51.5,57.4 L53.1,56.0 L55.1,54.4 L56.9,53.6 L58.5,52.7 L59.3,51.3 L59.3,49.2M64.4,7.1 L63.8,5.2 L64.2,3.5 L64.1,2.0 L64.6,-0.1M35.6,41.8 L36.6,43.4 L38.8,44.4 L40.3,44.6 L42.7,45.7M81.8,39.9 L80.0,39.6 L78.4,39.7 L76.5,39.9 L74.4,40.5 L71.7,41.1 L69.3,41.7 L67.1,42.3M37.2,16.6 L34.7,16.0 L33.0,15.7 L30.9,15.5 L29.3,15.7 L27.2,16.0M7.5,48.7 L8.5,46.9 L9.1,44.3 L10.6,42.4 L12.1,40.7M49.9,-1.7 L51.6,-2.0 L53.4,-2.7 L54.4,-5.1M78.1,68.9 L79.6,67.8 L81.5,67.1 L84.1,67.2M55.3,-4.0 L56.6,-2.2 L57.2,-0.8 L57.1,1.7 L55.5,3.9M52.6,68.4 L54.4,67.8 L56.7,67.3 L59.3,66.6M51.5,17.7 L49.9,16.9 L48.4,15.7 L47.0,14.6 L46.5,12.0 L46.8,9.3 L47.9,6.9M35.0,41.4 L37.0,40.3 L39.0,38.9 L40.9,38.7 L42.4,37.8 L44.2,37.0 L46.3,35.3M22.6,38.3 L23.3,36.6 L24.0,34.8 L25.6,33.2M-3.9,27.0 L-2.9,25.4 L-1.0,23.6 L0.2,22.6 L2.0,21.3M50.1,26.6 L48.3,24.9 L47.4,23.6 L46.2,21.4 L46.6,19.8 L46.9,17.4 L47.7,15.2 L49.0,13.5M62.2,62.4 L61.5,60.7 L60.0,58.8 L58.3,57.7 L56.8,56.1 L55.9,54.7 L54.3,54.2M72.3,20.3 L71.9,18.4 L70.6,16.3 L69.7,14.6M30.6,45.4 L27.8,46.0 L25.9,46.4 L23.5,47.2 L21.4,47.2 L18.9,47.5M25.0,82.9 L23.2,80.9 L21.6,78.7 L21.0,77.3 L21.1,75.1M78.7,65.2 L76.7,64.4 L74.7,64.6 L72.8,64.9 L70.2,65.9 L68.2,67.1 L66.6,68.3M31.5,45.9 L29.0,44.7 L26.7,44.5 L23.9,44.0 L21.4,44.2M10.5,23.8 L12.7,24.2 L14.6,25.7 L15.8,27.9 L15.5,30.0 L15.4,31.7M21.4,41.4 L19.2,41.5 L17.5,41.5 L15.3,42.5 L13.2,43.8M-4.0,-4.7 L-4.0,-7.3 L-4.0,-9.6 L-4.1,-11.7 L-4.7,-13.9 L-5.4,-16.0 L-5.0,-18.8 L-5.2,-20.4M9.3,63.9 L10.6,64.7 L12.0,66.3 L13.5,67.7M67.8,54.0 L66.7,52.4 L66.4,50.7 L65.8,48.1 L65.6,45.8 L65.1,43.9 L65.1,42.3 L66.0,39.7M35.0,51.3 L35.4,52.9 L36.0,54.3 L37.3,56.6M36.4,32.9 L36.2,35.3 L35.9,37.7 L36.2,39.7 L37.0,42.0 L36.5,43.5 L35.9,45.1M29.5,-4.3 L30.9,-6.0 L32.1,-7.6 L32.9,-9.0 L34.4,-11.1 L35.2,-12.7 L36.4,-14.2M16.6,-1.8 L15.8,-3.3 L14.7,-4.7 L12.7,-5.5 L10.6,-6.1 L8.8,-6.6M14.7,31.7 L13.2,30.7 L12.2,29.3 L10.8,27.8 L10.0,26.1 L9.8,23.4 L9.2,21.7 L8.2,19.7M14.3,74.1 L15.1,76.5 L15.1,79.0 L14.3,80.5 L13.5,81.7 L12.4,84.0 L12.3,85.8 L12.0,87.3M78.2,68.0 L79.1,66.8 L80.0,65.3 L81.7,63.6 L83.4,61.5M65.5,75.1 L67.8,73.6 L70.1,72.5 L72.5,72.1 L74.8,71.7M37.1,85.7 L35.7,86.8 L33.3,87.2 L31.0,86.5M-1.3,-1.4 L-0.0,0.7 L1.4,2.4 L3.5,3.2 L5.3,2.9M40.3,42.2 L42.6,41.1 L44.9,39.9 L47.2,38.7 L49.3,37.8 L50.9,37.5 L53.4,37.2 L55.9,37.4M2.8,58.0 L0.3,58.1 L-2.5,58.2 L-4.5,58.0 L-6.7,56.9 L-9.1,56.1 L-10.7,56.0 L-13.1,56.4M34.0,41.4 L36.2,39.8 L38.2,38.3 L39.4,37.0 L41.0,35.1M16.5,18.6 L18.1,17.9 L20.0,17.5 L22.3,17.8 L23.9,18.7M17.0,41.7 L14.8,42.7 L12.8,43.9 L11.4,44.7 L9.4,44.9 L7.7,44.4M84.1,71.1 L82.9,72.3 L81.7,73.6 L80.4,74.4 L78.4,75.7M35.8,5.2 L34.4,7.0 L33.6,8.3 L31.8,9.6 L29.5,10.3 L27.7,10.9 L25.5,11.7M82.1,39.3 L82.0,37.8 L82.8,35.6 L83.2,32.9 L83.3,31.1 L83.0,29.4M-2.5,65.2 L-2.4,63.1 L-0.9,60.9 L0.4,58.8 L1.2,57.1 L1.7,54.8M27.4,15.9 L29.5,17.5 L30.8,18.5 L32.6,20.2 L32.0,22.2 L32.4,23.7M14.7,33.4 L14.0,31.9 L12.8,30.5 L11.9,28.7 L11.6,25.9 L11.8,24.1M28.9,-2.1 L27.0,-2.9 L25.0,-3.6 L23.5,-5.0 L21.5,-6.4 L19.8,-8.3 L18.8,-9.9 L17.6,-11.5M46.3,26.6 L47.6,28.2 L49.1,29.7 L50.7,30.9M50.4,2.4 L51.0,0.2 L51.4,-2.5 L52.4,-4.4 L53.1,-6.2 L53.5,-8.8M-2.5,12.1 L-3.6,10.2 L-4.9,8.4 L-5.6,6.7 L-6.6,4.9 L-8.0,2.5 L-8.5,0.8M63.2,15.1 L64.8,13.2 L66.5,12.5 L68.1,10.8M61.9,77.5 L59.9,76.3 L58.1,75.1 L56.1,74.3 L54.5,72.6 L51.8,72.1 L49.4,72.5M44.5,82.8 L45.5,85.1 L45.6,86.7 L45.0,88.4 L44.3,90.6 L43.8,92.2 L43.4,94.3M75.9,51.3 L77.4,50.8 L79.2,50.0 L81.3,48.4 L82.6,47.7 L83.6,46.1 L84.9,44.4 L86.5,43.3M39.5,69.1 L39.3,70.7 L39.4,73.4 L39.6,75.1 L40.3,77.1 L40.5,78.7M-3.1,5.0 L-3.1,3.3 L-1.9,1.3 L-1.2,-1.2 L-1.0,-4.0M64.3,19.4 L62.6,20.3 L60.0,20.9 L57.5,20.9M-1.8,11.5 L-1.5,9.9 L-0.5,7.4 L-0.8,5.2 L-0.3,3.6 L0.1,1.0 L0.9,-1.1 L1.9,-2.8M37.6,47.3 L36.1,48.5 L34.8,49.8 L33.3,50.8 L31.0,51.3 L28.9,52.5M8.1,29.9 L10.3,30.2 L11.8,31.0 L14.4,31.6 L15.9,31.0 L18.1,30.4M4.0,66.8 L5.4,64.6 L7.0,63.6 L8.8,61.9 L10.5,60.2M26.9,45.0 L25.5,46.9 L24.7,49.3 L25.1,51.4M76.4,68.4 L79.0,68.4 L81.1,68.5 L82.9,67.8 L84.6,67.5M1.0,22.3 L1.6,24.2 L3.0,26.5 L4.0,27.9 L5.4,29.7 L6.4,32.0 L7.3,33.8 L8.1,35.8M76.8,20.0 L76.9,22.5 L77.2,24.0 L77.7,25.5M35.8,76.0 L35.5,78.4 L35.7,81.2 L36.2,83.7 L36.8,86.2 L37.4,87.9 L37.8,90.1 L37.5,92.7M14.3,24.6 L13.7,22.7 L13.1,21.3 L11.8,19.7 L11.3,17.8 L11.0,15.7 L10.3,13.7M-3.8,78.9 L-5.3,78.5 L-7.2,78.7 L-8.7,79.3 L-11.1,80.1 L-12.6,80.4M69.1,33.4 L66.5,32.4 L64.3,31.9 L61.8,31.2 L60.2,29.8 L59.2,27.7 L58.4,25.7 L57.5,23.9M43.2,19.8 L43.9,21.8 L45.1,23.4 L47.5,24.8 L48.9,25.6 L49.6,27.0 L50.5,28.9 L51.3,31.0M11.5,80.2 L9.1,81.1 L7.2,82.7 L5.8,84.7 L4.7,86.5M73.2,14.3 L75.1,12.4 L76.3,11.3 L78.0,9.7 L79.3,8.2 L80.9,6.6 L82.2,5.0M78.6,80.7 L77.1,78.9 L75.9,77.5 L74.3,76.1 L73.2,74.7M75.0,40.2 L76.8,38.4 L78.8,36.6 L80.2,35.8 L81.6,35.3M74.4,17.7 L74.0,19.9 L74.0,22.5 L73.8,24.5 L72.1,26.3 L70.1,28.0 L68.3,30.1 L67.2,31.4M83.7,-4.1 L85.6,-5.2 L87.0,-6.7 L88.9,-7.4 L90.6,-9.0M31.1,25.4 L32.7,24.7 L34.2,24.2 L35.8,22.7 L37.0,21.6 L38.4,21.0 L41.0,20.6 L42.6,20.4M39.3,7.3 L37.2,8.2 L35.0,8.2 L32.6,7.4 L30.0,6.5M2.0,83.0 L3.0,81.6 L3.7,79.9 L4.7,78.0 L5.7,76.2M45.7,27.9 L47.8,27.6 L50.0,26.5 L52.4,26.9M31.3,23.9 L29.7,25.0 L28.5,26.2 L26.2,27.8 L23.5,28.3M18.2,50.4 L16.3,52.2 L14.7,53.9 L13.8,55.1 L12.6,57.0M57.3,35.1 L55.3,33.2 L54.5,30.8 L53.8,28.7 L52.2,27.9 L49.9,28.1 L47.5,28.4M30.8,42.7 L29.4,42.1 L27.0,40.7 L24.6,40.4 L22.0,40.2 L20.4,39.0M48.6,46.8 L50.7,47.5 L52.9,47.8 L54.5,48.2M69.8,36.7 L68.3,35.5 L66.3,35.0 L64.8,33.6M58.9,29.0 L58.3,30.5 L57.6,32.4 L56.1,33.8 L54.6,35.3 L53.2,36.3 L52.1,38.4 L51.7,40.2M28.7,25.8 L26.8,26.9 L24.6,27.4 L22.7,27.9M44.6,78.2 L44.3,80.5 L44.4,83.1 L44.2,85.6 L43.3,87.8 L42.6,89.7M28.4,59.6 L27.7,61.6 L27.4,63.3 L27.3,66.0 L26.5,68.6 L25.0,70.7 L24.1,72.3M73.3,2.3 L71.3,3.1 L70.0,5.2 L69.2,6.5 L68.7,8.6 L68.4,11.2 L69.0,13.8M35.0,39.6 L32.7,39.0 L31.2,38.6 L28.8,38.8M45.4,64.8 L46.7,62.9 L47.9,62.0 L48.5,60.4M36.3,69.7 L37.0,71.8 L36.7,73.8 L36.1,76.0 L34.1,77.7 L32.9,78.9M25.4,42.0 L27.3,42.0 L29.1,42.4 L31.0,43.4 L33.1,43.8 L35.5,44.9 L37.7,46.1 L39.1,47.1M-0.3,43.7 L-1.6,45.6 L-3.0,47.9 L-3.8,49.7 L-3.6,52.1 L-3.8,54.5 L-4.3,57.2M69.9,-1.8 L70.3,0.1 L71.0,2.2 L72.5,3.6 L73.9,5.9 L74.9,7.1 L76.2,7.9M73.5,1.5 L72.4,0.5 L71.1,-0.6 L69.3,-1.0 L66.8,-1.3M43.6,9.4 L43.0,7.4 L42.2,5.9 L41.5,4.5 L40.6,2.3M35.3,33.5 L36.8,33.1 L38.5,32.8 L40.7,32.1 L42.1,31.2M78.0,24.4 L80.2,22.8 L82.2,20.9 L83.3,19.3 L84.9,17.6" stroke="#9a3018" stroke-width="0.45" opacity="0.55" fill="none" stroke-linejoin="round"/>
</g></g>
<g transform="translate(538.1,444.8)"><g clip-path="url(#cp)">
<rect x="0" y="0" width="81" height="80.7" fill="#091309"/>
<ellipse transform="translate(31.9,15.2) rotate(0)" rx="7.2" ry="7.2" fill="url(#sp1)" opacity="0.12"/>
<ellipse transform="translate(61.9,35.2) rotate(0)" rx="7.2" ry="7.2" fill="url(#sp1)" opacity="0.10"/>
<ellipse transform="translate(51.9,60.2) rotate(0)" rx="5.8" ry="5.8" fill="url(#sp1)" opacity="0.12"/>
<ellipse transform="translate(21.9,55.2) rotate(0)" rx="5.8" ry="5.8" fill="url(#sp1)" opacity="0.10"/>
<ellipse transform="translate(73.9,55.2) rotate(0)" rx="5.8" ry="5.8" fill="url(#sp1)" opacity="0.12"/>
</g></g>
<g transform="translate(622.9,444.8)"><g clip-path="url(#cp)">
<rect x="0" y="0" width="81" height="80.7" fill="#081008"/>
<ellipse transform="translate(27.1,25.2) rotate(0)" rx="7.2" ry="7.2" fill="url(#sp1)" opacity="0.15"/>
<ellipse transform="translate(17.1,55.2) rotate(0)" rx="5.8" ry="5.8" fill="url(#sp1)" opacity="0.12"/>
<ellipse transform="translate(67.1,65.2) rotate(0)" rx="5.8" ry="5.8" fill="url(#sp1)" opacity="0.15"/>
<ellipse transform="translate(47.1,45.2) rotate(0)" rx="5.8" ry="5.8" fill="url(#sp1)" opacity="0.12"/>
<ellipse transform="translate(33.1,15.2) rotate(0)" rx="5.8" ry="5.8" fill="url(#sp1)" opacity="0.12"/>
</g></g>
<g transform="translate(707.7,444.8)"><g clip-path="url(#cp)">
<rect x="0" y="0" width="81" height="80.7" fill="#0c0505"/>
<path d="M36.6,45.2h1M74.9,37.6h1M41.1,47.4h1M15.0,41.3h1M51.0,64.0h1M7.6,24.5h1M7.3,65.3h1M56.2,3.4h1M79.6,77.9h1M53.0,49.7h1M12.8,1.2h1M42.8,4.8h1M15.4,19.5h1M2.4,37.4h1M35.7,68.0h1M42.0,51.7h1M40.5,53.5h1M37.0,22.4h1M80.8,80.4h1M68.1,57.1h1M25.5,18.5h1M23.4,5.7h1M62.1,32.3h1M68.6,31.2h1M77.6,68.4h1M0.0,16.9h1M73.7,37.9h1M79.4,32.1h1M5.9,50.8h1M63.1,21.8h1M7.1,26.8h1M78.1,61.2h1M9.6,19.9h1M8.2,4.8h1M64.6,14.3h1M45.3,36.1h1M15.4,59.1h1M10.6,51.9h1M9.4,34.0h1M17.2,21.8h1M78.6,64.8h1M24.6,71.4h1M17.1,31.8h1M69.2,51.8h1M8.1,79.8h1M17.3,20.8h1M62.6,26.5h1M24.0,5.9h1M7.3,47.0h1M19.7,48.5h1M30.1,36.6h1M77.7,39.0h1M46.5,69.9h1M14.8,12.4h1M73.6,66.0h1M20.2,15.3h1M59.9,75.9h1M15.9,76.7h1M71.5,48.7h1M34.1,8.4h1" stroke="#501010" stroke-width="1" opacity="0.6" fill="none"/>
</g></g>
<text x="522.5" y="169" font-weight="bold" font-size="12.5" fill="#111">f)</text>
<text transform="translate(579,169.5) scale(1,1.06)" text-anchor="middle" font-size="12.6" fill="#333" stroke="none">5-dFu</text>
<text transform="translate(579,182.6) scale(1,1.06)" text-anchor="middle" font-size="12.6" fill="#333" stroke="none">(246 Da)</text>
<text transform="translate(660.8,169.5) scale(1,1.06)" text-anchor="middle" font-size="12.6" fill="#333" stroke="none">FITC-gal</text>
<text transform="translate(660.8,182.6) scale(1,1.06)" text-anchor="middle" font-size="12.6" fill="#333" stroke="none">(652 Da)</text>
<text transform="translate(745.2,169.5) scale(1,1.06)" text-anchor="middle" font-size="12.6" fill="#333" stroke="none">TR-dextran</text>
<text transform="translate(745.2,182.6) scale(1,1.06)" text-anchor="middle" font-size="12.6" fill="#333" stroke="none">(~2600 Da)</text>
<text transform="translate(540.8,199.1) scale(1,1.08)" font-size="9.6" fill="#fff" stroke="#fff" stroke-width="0.2">Before SO<tspan font-size="8" dy="1.8">2</tspan></text>
<text transform="translate(540.8,284.1) scale(1,1.08)" font-size="9.6" fill="#fff" stroke="#fff" stroke-width="0.2">After SO<tspan font-size="8" dy="1.8">2</tspan></text>
<text transform="translate(541.2,348.7) scale(1,1.1)" font-size="9.6" fill="#fff" stroke="#fff" stroke-width="0.2" letter-spacing="-0.15">60 μM</text>
<text transform="translate(541.2,435.8) scale(1,1.1)" font-size="9.6" fill="#fff" stroke="#fff" stroke-width="0.2" letter-spacing="-0.15">150 μM</text>
<text transform="translate(541.2,519.8) scale(1,1.1)" font-size="9.6" fill="#fff" stroke="#fff" stroke-width="0.2" letter-spacing="-0.15">300 μM</text>
<rect x="753" y="519.3" width="33" height="2.2" fill="#fff"/>
<path d="M208.60,236.80 L216.30,241.30 M216.30,241.30 L216.30,250.20 M215.10,243.07 L215.10,248.41 M216.30,250.20 L208.60,254.90 M207.06,253.96 L202.44,251.14 M200.90,248.40 L200.90,243.10 M202.45,240.39 L207.05,237.71 M208.60,236.80 L208.60,230.60 M209.8,236.8 L209.8,230.6 M216.30,241.30 L221.50,238.60 M200.90,250.20 L195.20,253.60 M201.5,251.4 L195.8,254.8 M208.55,256.90 L208.35,265.80 M206.85,267.41 L201.65,265.99 M198.81,266.16 L194.59,267.84 M208.30,267.80 L205.60,272.80 M205.60,272.80 L197.40,273.20 M197.40,273.20 L193.20,268.40 M193.20,268.40 L189.50,262.50 M189.50,262.50 L186.00,259.00 M197.40,273.20 L197.60,279.20" stroke="#111" stroke-width="0.9" fill="none" stroke-linejoin="round"/>
<path d="M196.6,272.6 L206,272.2 L206,273.8 L197.6,274.6 Z" fill="#222"/>
<text x="208.60" y="230.86" font-size="5.72" font-weight="bold" text-anchor="middle" fill="#111" stroke="#fff" stroke-width="1.3" paint-order="stroke">O</text>
<text x="197.80" y="243.36" font-size="5.72" font-weight="bold" text-anchor="middle" fill="#111" stroke="#fff" stroke-width="1.3" paint-order="stroke">HN</text>
<text x="224.20" y="239.66" font-size="5.72" font-weight="bold" text-anchor="middle" fill="#111" stroke="#fff" stroke-width="1.3" paint-order="stroke">F</text>
<text x="208.60" y="258.36" font-size="5.72" font-weight="bold" text-anchor="middle" fill="#111" stroke="#fff" stroke-width="1.3" paint-order="stroke">N</text>
<text x="193.40" y="258.36" font-size="5.72" font-weight="bold" text-anchor="middle" fill="#111" stroke="#fff" stroke-width="1.3" paint-order="stroke">O</text>
<text x="182.50" y="260.36" font-size="5.72" font-weight="bold" text-anchor="middle" fill="#111" stroke="#fff" stroke-width="1.3" paint-order="stroke">HO</text>
<text x="200.20" y="267.12" font-size="5.06" font-weight="bold" text-anchor="middle" fill="#111" stroke="#fff" stroke-width="1.3" paint-order="stroke">O</text>
<text x="198.50" y="284.06" font-size="5.72" font-weight="bold" text-anchor="middle" fill="#111" stroke="#fff" stroke-width="1.3" paint-order="stroke">OH</text>
<path d="M418.80,248.90 L425.47,252.75 L425.47,260.45 L418.80,264.30 L412.13,260.45 L412.13,252.75 Z M445.40,248.90 L452.07,252.75 L452.07,260.45 L445.40,264.30 L438.73,260.45 L438.73,252.75 Z M432.10,248.90 L438.77,252.75 M438.77,252.75 L438.77,260.45 M438.77,260.45 L432.10,264.30 M432.10,264.30 L425.43,260.45 M425.43,260.45 L425.43,252.75 M425.43,252.75 L432.10,248.90 M424.27,254.29 L424.27,258.91 M418.07,262.49 L414.07,260.18 M414.07,253.02 L418.07,250.71 M450.87,254.29 L450.87,258.91 M444.67,262.49 L440.67,260.18 M440.67,253.02 L444.67,250.71 M412.13,252.75 L405.50,249.00 M452.07,252.75 L458.60,249.00 M392.80,249.40 L398.86,252.90 L398.86,259.90 L392.80,263.40 L386.74,259.90 L386.74,252.90 Z M472.00,250.20 L478.06,253.70 L478.06,260.70 L472.00,264.20 L465.94,260.70 L465.94,253.70 Z M398.86,252.90 L405.50,249.00 M465.94,253.70 L458.60,249.00 M386.74,252.90 L381.50,246.50 M381.50,246.50 L376.50,252.50 M386.74,259.90 L379.50,263.80 M392.80,263.40 L392.80,270.50 M398.86,259.90 L404.00,263.80 M478.06,253.70 L483.50,246.50 M483.50,246.50 L489.00,252.50 M478.06,260.70 L485.50,264.50 M472.00,264.20 L472.00,271.00 M465.94,260.70 L460.00,264.50 M431.19,265.23 L426.31,270.27 M425.82,272.43 L427.38,276.97 M427.80,278.20 L435.50,277.60 M435.50,277.60 L437.60,270.00 M437.60,270.00 L432.10,264.30 M427.80,278.20 L424.80,282.80 M429.0,279.4 L426.2,283.6 M450.60,277.20 L447.10,283.26 L440.10,283.26 L436.60,277.20 L440.10,271.14 L447.10,271.14 Z M448.86,277.81 L446.76,281.45 M440.44,281.45 L438.34,277.81 M441.50,272.34 L445.70,272.34" stroke="#111" stroke-width="0.9" fill="none" stroke-linejoin="round"/>
<text x="432.10" y="249.07" font-size="5.20" font-weight="bold" text-anchor="middle" fill="#111" stroke="#fff" stroke-width="1.3" paint-order="stroke">O</text>
<text x="405.50" y="250.47" font-size="5.20" font-weight="bold" text-anchor="middle" fill="#111" stroke="#fff" stroke-width="1.3" paint-order="stroke">O</text>
<text x="458.80" y="250.47" font-size="5.20" font-weight="bold" text-anchor="middle" fill="#111" stroke="#fff" stroke-width="1.3" paint-order="stroke">O</text>
<text x="370.50" y="255.07" font-size="5.20" font-weight="bold" text-anchor="middle" fill="#111" stroke="#fff" stroke-width="1.3" paint-order="stroke">HO</text>
<text x="375.50" y="266.37" font-size="5.20" font-weight="bold" text-anchor="middle" fill="#111" stroke="#fff" stroke-width="1.3" paint-order="stroke">HO</text>
<text x="393.80" y="274.47" font-size="5.20" font-weight="bold" text-anchor="middle" fill="#111" stroke="#fff" stroke-width="1.3" paint-order="stroke">OH</text>
<text x="407.50" y="266.37" font-size="5.20" font-weight="bold" text-anchor="middle" fill="#111" stroke="#fff" stroke-width="1.3" paint-order="stroke">OH</text>
<text x="494.50" y="255.07" font-size="5.20" font-weight="bold" text-anchor="middle" fill="#111" stroke="#fff" stroke-width="1.3" paint-order="stroke">OH</text>
<text x="458.60" y="266.67" font-size="5.20" font-weight="bold" text-anchor="middle" fill="#111" stroke="#fff" stroke-width="1.3" paint-order="stroke">HO</text>
<text x="489.50" y="266.67" font-size="5.20" font-weight="bold" text-anchor="middle" fill="#111" stroke="#fff" stroke-width="1.3" paint-order="stroke">OH</text>
<text x="474.50" y="274.67" font-size="5.20" font-weight="bold" text-anchor="middle" fill="#111" stroke="#fff" stroke-width="1.3" paint-order="stroke">OH</text>
<text x="424.50" y="273.27" font-size="5.20" font-weight="bold" text-anchor="middle" fill="#111" stroke="#fff" stroke-width="1.3" paint-order="stroke">O</text>
<text x="423.60" y="286.37" font-size="5.20" font-weight="bold" text-anchor="middle" fill="#111" stroke="#fff" stroke-width="1.3" paint-order="stroke">O</text>
<path d="M164.08,442.10 L170.49,445.80 L170.49,453.20 L164.08,456.90 L157.67,453.20 L157.67,445.80 Z M176.90,442.10 L183.31,445.80 L183.31,453.20 L176.90,456.90 L170.49,453.20 L170.49,445.80 Z M189.72,442.10 L196.13,445.80 L196.13,453.20 L189.72,456.90 L183.31,453.20 L183.31,445.80 Z M157.67,431.00 L164.08,434.70 L164.08,442.10 L157.67,445.80 L151.27,442.10 L151.27,434.70 Z M151.27,442.10 L157.67,445.80 L157.67,453.20 L151.27,456.90 L144.86,453.20 L144.86,445.80 Z M196.13,431.00 L202.53,434.70 L202.53,442.10 L196.13,445.80 L189.72,442.10 L189.72,434.70 Z M202.53,442.10 L208.94,445.80 L208.94,453.20 L202.53,456.90 L196.13,453.20 L196.13,445.80 Z M169.29,447.28 L169.29,451.72 M163.40,455.12 L159.56,452.90 M184.51,451.72 L184.51,447.28 M194.24,452.90 L190.40,455.12 M176.90,464.80 L183.31,468.50 L183.31,475.90 L176.90,479.60 L170.49,475.90 L170.49,468.50 Z M176.90,456.90 L176.90,464.80 M182.11,469.98 L182.11,474.42 M176.22,477.82 L172.37,475.60 M172.37,468.80 L176.22,466.58 M183.31,468.50 L188.50,465.40 M176.74,481.19 L176.36,485.01 M174.90,486.07 L171.10,484.53 M176.20,488.00 L176.20,491.40 M177.64,487.30 L181.36,489.10 M184.60,489.20 L189.50,486.20 L195.50,489.80 L200.20,486.60 M203.40,486.60 L208.00,489.40 L211.50,487.00 M211.50,487.00 L213.20,476.50 L218.20,474.40 L224.40,473.20 L222.60,483.50 L220.50,494.20 L213.60,496.20 Z M213.60,496.20 L212.50,500.00 M222.60,483.50 L226.00,483.50 M220.50,494.20 L225.00,492.50 M224.40,473.20 L229.00,473.20" stroke="#111" stroke-width="0.9" fill="none" stroke-linejoin="round"/>
<text x="176.90" y="444.17" font-size="5.20" font-weight="bold" text-anchor="middle" fill="#111" stroke="#fff" stroke-width="1.3" paint-order="stroke">O</text>
<text x="151.10" y="444.47" font-size="5.20" font-weight="bold" text-anchor="middle" fill="#111" stroke="#fff" stroke-width="1.3" paint-order="stroke">N</text>
<text x="202.70" y="444.47" font-size="5.20" font-weight="bold" text-anchor="middle" fill="#111" stroke="#fff" stroke-width="1.3" paint-order="stroke">N</text>
<text x="194.50" y="467.20" font-size="5.00" font-weight="bold" text-anchor="middle" fill="#111" stroke="#fff" stroke-width="1.3" paint-order="stroke">SO₃H</text>
<text x="176.20" y="488.50" font-size="5.00" font-weight="bold" text-anchor="middle" fill="#111" stroke="#fff" stroke-width="1.3" paint-order="stroke">S</text>
<text x="168.50" y="485.70" font-size="5.00" font-weight="bold" text-anchor="middle" fill="#111" stroke="#fff" stroke-width="1.3" paint-order="stroke">O</text>
<text x="176.20" y="495.60" font-size="5.00" font-weight="bold" text-anchor="middle" fill="#111" stroke="#fff" stroke-width="1.3" paint-order="stroke">O</text>
<text x="183.40" y="491.56" font-size="4.60" font-weight="bold" text-anchor="middle" fill="#111" stroke="#fff" stroke-width="1.3" paint-order="stroke">N</text>
<text x="183.40" y="496.11" font-size="4.20" font-weight="bold" text-anchor="middle" fill="#111" stroke="#fff" stroke-width="1.3" paint-order="stroke">H</text>
<text x="201.80" y="488.10" font-size="5.00" font-weight="bold" text-anchor="middle" fill="#111" stroke="#fff" stroke-width="1.3" paint-order="stroke">O</text>
<text x="214.80" y="478.46" font-size="4.60" font-weight="bold" text-anchor="middle" fill="#111" stroke="#fff" stroke-width="1.3" paint-order="stroke">O</text>
<text x="229.50" y="485.30" font-size="5.00" font-weight="bold" text-anchor="middle" fill="#111" stroke="#fff" stroke-width="1.3" paint-order="stroke">OH</text>
<text x="227.20" y="494.30" font-size="5.00" font-weight="bold" text-anchor="middle" fill="#111" stroke="#fff" stroke-width="1.3" paint-order="stroke">O</text>
<text x="212.60" y="504.10" font-size="5.00" font-weight="bold" text-anchor="middle" fill="#111" stroke="#fff" stroke-width="1.3" paint-order="stroke">OH</text>
<text x="231.20" y="477.38" font-size="4.40" font-weight="bold" text-anchor="middle" fill="#111" stroke="#fff" stroke-width="1.3" paint-order="stroke">n</text>
<path d="M229.6,470.5 q1.5,3.6 0,7 M230,489.5 l3.2,5.5" stroke="#111" stroke-width="0.7" fill="none"/>
</svg></body></html>
